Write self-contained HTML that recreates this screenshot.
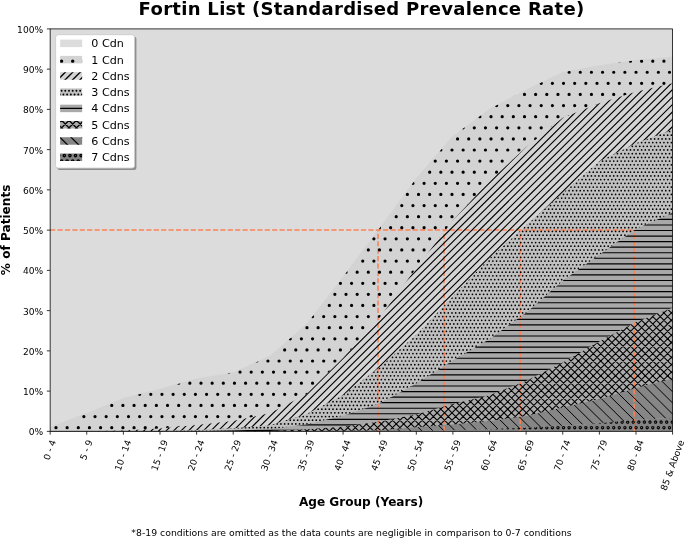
<!DOCTYPE html><html><head><meta charset="utf-8"><title>Fortin List</title>
<style>html,body{margin:0;padding:0;background:#fff}svg{display:block}text{font-family:"DejaVu Sans","Liberation Sans",sans-serif;fill:#000}</style></head><body>
<svg width="685" height="539" viewBox="0 0 685 539">
<rect width="685" height="539" fill="#fff"/>
<defs>
<clipPath id="ax"><rect x="50.15" y="28.90" width="622.45" height="402.45"/></clipPath>
<clipPath id="c7"><polygon points="50.15,431.35 86.76,431.35 123.38,431.35 159.99,431.35 196.61,431.35 233.22,431.35 269.84,431.35 306.45,431.35 343.07,431.35 379.68,431.15 416.30,430.95 452.91,430.14 489.53,429.14 526.14,427.73 562.76,425.72 599.37,423.30 635.99,419.68 672.60,418.07 672.60,431.35 635.99,431.35 599.37,431.35 562.76,431.35 526.14,431.35 489.53,431.35 452.91,431.35 416.30,431.35 379.68,431.35 343.07,431.35 306.45,431.35 269.84,431.35 233.22,431.35 196.61,431.35 159.99,431.35 123.38,431.35 86.76,431.35 50.15,431.35"/></clipPath>
<clipPath id="c6"><polygon points="50.15,431.35 86.76,431.35 123.38,431.35 159.99,431.35 196.61,431.35 233.22,431.35 269.84,431.35 306.45,430.95 343.07,430.75 379.68,430.14 416.30,427.33 452.91,424.51 489.53,420.89 526.14,416.06 562.76,407.61 599.37,399.36 635.99,388.09 672.60,378.63 672.60,418.07 635.99,419.68 599.37,423.30 562.76,425.72 526.14,427.73 489.53,429.14 452.91,430.14 416.30,430.95 379.68,431.15 343.07,431.35 306.45,431.35 269.84,431.35 233.22,431.35 196.61,431.35 159.99,431.35 123.38,431.35 86.76,431.35 50.15,431.35"/></clipPath>
<clipPath id="c5"><polygon points="50.15,431.35 86.76,431.35 123.38,431.35 159.99,431.35 196.61,431.35 233.22,431.15 269.84,430.95 306.45,429.34 343.07,426.72 379.68,421.49 416.30,414.45 452.91,403.98 489.53,395.13 526.14,381.04 562.76,362.53 599.37,341.60 635.99,321.88 672.60,307.80 672.60,378.63 635.99,388.09 599.37,399.36 562.76,407.61 526.14,416.06 489.53,420.89 452.91,424.51 416.30,427.33 379.68,430.14 343.07,430.75 306.45,430.95 269.84,431.35 233.22,431.35 196.61,431.35 159.99,431.35 123.38,431.35 86.76,431.35 50.15,431.35"/></clipPath>
<clipPath id="c4"><polygon points="50.15,431.35 86.76,431.35 123.38,431.35 159.99,431.35 196.61,431.15 233.22,430.55 269.84,429.14 306.45,424.51 343.07,415.65 379.68,403.58 416.30,383.46 452.91,360.52 489.53,339.19 526.14,312.63 562.76,280.83 599.37,254.67 635.99,228.92 672.60,212.82 672.60,307.80 635.99,321.88 599.37,341.60 562.76,362.53 526.14,381.04 489.53,395.13 452.91,403.98 416.30,414.45 379.68,421.49 343.07,426.72 306.45,429.34 269.84,430.95 233.22,431.15 196.61,431.35 159.99,431.35 123.38,431.35 86.76,431.35 50.15,431.35"/></clipPath>
<clipPath id="c3"><polygon points="50.15,431.35 86.76,431.35 123.38,431.35 159.99,430.95 196.61,429.94 233.22,428.13 269.84,425.31 306.45,414.04 343.07,395.13 379.68,366.96 416.30,334.76 452.91,296.13 489.53,258.30 526.14,225.30 562.76,193.10 599.37,161.31 635.99,143.20 672.60,129.51 672.60,212.82 635.99,228.92 599.37,254.67 562.76,280.83 526.14,312.63 489.53,339.19 452.91,360.52 416.30,383.46 379.68,403.58 343.07,415.65 306.45,424.51 269.84,429.14 233.22,430.55 196.61,431.15 159.99,431.35 123.38,431.35 86.76,431.35 50.15,431.35"/></clipPath>
<clipPath id="c2"><polygon points="50.15,431.35 86.76,431.15 123.38,430.55 159.99,428.53 196.61,424.91 233.22,420.89 269.84,413.24 306.45,394.32 343.07,358.10 379.68,317.46 416.30,267.96 452.91,220.47 489.53,181.03 526.14,147.22 562.76,117.84 599.37,103.35 635.99,91.68 672.60,83.23 672.60,129.51 635.99,143.20 599.37,161.31 562.76,193.10 526.14,225.30 489.53,258.30 452.91,296.13 416.30,334.76 379.68,366.96 343.07,395.13 306.45,414.04 269.84,425.31 233.22,428.13 196.61,429.94 159.99,430.95 123.38,431.35 86.76,431.35 50.15,431.35"/></clipPath>
<clipPath id="c1"><polygon points="50.15,427.33 86.76,413.24 123.38,398.35 159.99,389.09 196.61,378.63 233.22,372.59 269.84,356.09 306.45,324.30 343.07,276.81 379.68,228.11 416.30,178.21 452.91,135.95 489.53,108.99 526.14,89.67 562.76,72.36 599.37,65.52 635.99,60.29 672.60,57.07 672.60,83.23 635.99,91.68 599.37,103.35 562.76,117.84 526.14,147.22 489.53,181.03 452.91,220.47 416.30,267.96 379.68,317.46 343.07,358.10 306.45,394.32 269.84,413.24 233.22,420.89 196.61,424.91 159.99,428.53 123.38,430.55 86.76,431.15 50.15,431.35"/></clipPath>
<clipPath id="c0"><polygon points="50.15,28.90 86.76,28.90 123.38,28.90 159.99,28.90 196.61,28.90 233.22,28.90 269.84,28.90 306.45,28.90 343.07,28.90 379.68,28.90 416.30,28.90 452.91,28.90 489.53,28.90 526.14,28.90 562.76,28.90 599.37,28.90 635.99,28.90 672.60,28.90 672.60,57.07 635.99,60.29 599.37,65.52 562.76,72.36 526.14,89.67 489.53,108.99 452.91,135.95 416.30,178.21 379.68,228.11 343.07,276.81 306.45,324.30 269.84,356.09 233.22,372.59 196.61,378.63 159.99,389.09 123.38,398.35 86.76,413.24 50.15,427.33"/></clipPath>
</defs>
<g clip-path="url(#ax)" shape-rendering="geometricPrecision">
<rect x="50.15" y="28.90" width="622.45" height="402.45" fill="#dcdcdc"/>
<polygon points="50.15,427.33 86.76,413.24 123.38,398.35 159.99,389.09 196.61,378.63 233.22,372.59 269.84,356.09 306.45,324.30 343.07,276.81 379.68,228.11 416.30,178.21 452.91,135.95 489.53,108.99 526.14,89.67 562.76,72.36 599.37,65.52 635.99,60.29 672.60,57.07 672.60,83.23 635.99,91.68 599.37,103.35 562.76,117.84 526.14,147.22 489.53,181.03 452.91,220.47 416.30,267.96 379.68,317.46 343.07,358.10 306.45,394.32 269.84,413.24 233.22,420.89 196.61,424.91 159.99,428.53 123.38,430.55 86.76,431.15 50.15,431.35" fill="#d3d3d3" stroke="#d3d3d3" stroke-width="0.3"/>
<polygon points="50.15,431.35 86.76,431.15 123.38,430.55 159.99,428.53 196.61,424.91 233.22,420.89 269.84,413.24 306.45,394.32 343.07,358.10 379.68,317.46 416.30,267.96 452.91,220.47 489.53,181.03 526.14,147.22 562.76,117.84 599.37,103.35 635.99,91.68 672.60,83.23 672.60,129.51 635.99,143.20 599.37,161.31 562.76,193.10 526.14,225.30 489.53,258.30 452.91,296.13 416.30,334.76 379.68,366.96 343.07,395.13 306.45,414.04 269.84,425.31 233.22,428.13 196.61,429.94 159.99,430.95 123.38,431.35 86.76,431.35 50.15,431.35" fill="#d4d4d4" stroke="#d4d4d4" stroke-width="0.3"/>
<polygon points="50.15,431.35 86.76,431.35 123.38,431.35 159.99,430.95 196.61,429.94 233.22,428.13 269.84,425.31 306.45,414.04 343.07,395.13 379.68,366.96 416.30,334.76 452.91,296.13 489.53,258.30 526.14,225.30 562.76,193.10 599.37,161.31 635.99,143.20 672.60,129.51 672.60,212.82 635.99,228.92 599.37,254.67 562.76,280.83 526.14,312.63 489.53,339.19 452.91,360.52 416.30,383.46 379.68,403.58 343.07,415.65 306.45,424.51 269.84,429.14 233.22,430.55 196.61,431.15 159.99,431.35 123.38,431.35 86.76,431.35 50.15,431.35" fill="#c0c0c0" stroke="#c0c0c0" stroke-width="0.3"/>
<polygon points="50.15,431.35 86.76,431.35 123.38,431.35 159.99,431.35 196.61,431.15 233.22,430.55 269.84,429.14 306.45,424.51 343.07,415.65 379.68,403.58 416.30,383.46 452.91,360.52 489.53,339.19 526.14,312.63 562.76,280.83 599.37,254.67 635.99,228.92 672.60,212.82 672.60,307.80 635.99,321.88 599.37,341.60 562.76,362.53 526.14,381.04 489.53,395.13 452.91,403.98 416.30,414.45 379.68,421.49 343.07,426.72 306.45,429.34 269.84,430.95 233.22,431.15 196.61,431.35 159.99,431.35 123.38,431.35 86.76,431.35 50.15,431.35" fill="#a9a9a9" stroke="#a9a9a9" stroke-width="0.3"/>
<polygon points="50.15,431.35 86.76,431.35 123.38,431.35 159.99,431.35 196.61,431.35 233.22,431.15 269.84,430.95 306.45,429.34 343.07,426.72 379.68,421.49 416.30,414.45 452.91,403.98 489.53,395.13 526.14,381.04 562.76,362.53 599.37,341.60 635.99,321.88 672.60,307.80 672.60,378.63 635.99,388.09 599.37,399.36 562.76,407.61 526.14,416.06 489.53,420.89 452.91,424.51 416.30,427.33 379.68,430.14 343.07,430.75 306.45,430.95 269.84,431.35 233.22,431.35 196.61,431.35 159.99,431.35 123.38,431.35 86.76,431.35 50.15,431.35" fill="#ababab" stroke="#ababab" stroke-width="0.3"/>
<polygon points="50.15,431.35 86.76,431.35 123.38,431.35 159.99,431.35 196.61,431.35 233.22,431.35 269.84,431.35 306.45,430.95 343.07,430.75 379.68,430.14 416.30,427.33 452.91,424.51 489.53,420.89 526.14,416.06 562.76,407.61 599.37,399.36 635.99,388.09 672.60,378.63 672.60,418.07 635.99,419.68 599.37,423.30 562.76,425.72 526.14,427.73 489.53,429.14 452.91,430.14 416.30,430.95 379.68,431.15 343.07,431.35 306.45,431.35 269.84,431.35 233.22,431.35 196.61,431.35 159.99,431.35 123.38,431.35 86.76,431.35 50.15,431.35" fill="#868686" stroke="#868686" stroke-width="0.3"/>
<polygon points="50.15,431.35 86.76,431.35 123.38,431.35 159.99,431.35 196.61,431.35 233.22,431.35 269.84,431.35 306.45,431.35 343.07,431.35 379.68,431.15 416.30,430.95 452.91,430.14 489.53,429.14 526.14,427.73 562.76,425.72 599.37,423.30 635.99,419.68 672.60,418.07 672.60,431.35 635.99,431.35 599.37,431.35 562.76,431.35 526.14,431.35 489.53,431.35 452.91,431.35 416.30,431.35 379.68,431.35 343.07,431.35 306.45,431.35 269.84,431.35 233.22,431.35 196.61,431.35 159.99,431.35 123.38,431.35 86.76,431.35 50.15,431.35" fill="#838383" stroke="#838383" stroke-width="0.3"/>
</g>
<g fill="none" stroke="#fb8155" stroke-width="1.50" stroke-dasharray="5.15 2.25">
<path d="M50.15 230.00H634.20"/>
<path d="M378.05 431.35V230.00"/>
<path d="M444.10 431.35V230.00"/>
<path d="M520.20 431.35V230.00"/>
<path d="M634.20 431.35V230.00"/>
</g>
<g clip-path="url(#c1)"><path d="M55.98 427.64h0M67.13 427.64h0M78.29 427.64h0M89.44 427.64h0M100.60 427.64h0M111.75 427.64h0M122.91 427.64h0M134.06 427.64h0M145.22 427.64h0M156.38 427.64h0M167.53 427.64h0M178.69 427.64h0M83.87 416.53h0M95.02 416.53h0M106.18 416.53h0M117.33 416.53h0M128.49 416.53h0M139.64 416.53h0M150.80 416.53h0M161.95 416.53h0M173.11 416.53h0M184.26 416.53h0M195.42 416.53h0M206.57 416.53h0M217.73 416.53h0M228.88 416.53h0M240.04 416.53h0M251.19 416.53h0M262.35 416.53h0M111.75 405.43h0M122.91 405.43h0M134.06 405.43h0M145.22 405.43h0M156.38 405.43h0M167.53 405.43h0M178.69 405.43h0M189.84 405.43h0M200.99 405.43h0M212.15 405.43h0M223.30 405.43h0M234.46 405.43h0M245.61 405.43h0M256.77 405.43h0M267.93 405.43h0M279.08 405.43h0M139.64 394.32h0M150.80 394.32h0M161.95 394.32h0M173.11 394.32h0M184.26 394.32h0M195.42 394.32h0M206.57 394.32h0M217.73 394.32h0M228.88 394.32h0M240.04 394.32h0M251.19 394.32h0M262.35 394.32h0M273.50 394.32h0M284.66 394.32h0M295.81 394.32h0M306.97 394.32h0M178.69 383.22h0M189.84 383.22h0M200.99 383.22h0M212.15 383.22h0M223.30 383.22h0M234.46 383.22h0M245.61 383.22h0M256.77 383.22h0M267.93 383.22h0M279.08 383.22h0M290.24 383.22h0M301.39 383.22h0M312.55 383.22h0M228.88 372.11h0M240.04 372.11h0M251.19 372.11h0M262.35 372.11h0M273.50 372.11h0M284.66 372.11h0M295.81 372.11h0M306.97 372.11h0M318.12 372.11h0M329.28 372.11h0M256.77 361.00h0M267.93 361.00h0M279.08 361.00h0M290.24 361.00h0M301.39 361.00h0M312.55 361.00h0M323.70 361.00h0M334.86 361.00h0M284.66 349.90h0M295.81 349.90h0M306.97 349.90h0M318.12 349.90h0M329.28 349.90h0M340.43 349.90h0M351.59 349.90h0M290.24 338.79h0M301.39 338.79h0M312.55 338.79h0M323.70 338.79h0M334.86 338.79h0M346.01 338.79h0M357.17 338.79h0M306.97 327.69h0M318.12 327.69h0M329.28 327.69h0M340.43 327.69h0M351.59 327.69h0M362.74 327.69h0M312.55 316.58h0M323.70 316.58h0M334.86 316.58h0M346.01 316.58h0M357.17 316.58h0M368.32 316.58h0M379.48 316.58h0M329.28 305.47h0M340.43 305.47h0M351.59 305.47h0M362.74 305.47h0M373.90 305.47h0M385.05 305.47h0M334.86 294.37h0M346.01 294.37h0M357.17 294.37h0M368.32 294.37h0M379.48 294.37h0M390.63 294.37h0M340.43 283.26h0M351.59 283.26h0M362.74 283.26h0M373.90 283.26h0M385.05 283.26h0M396.21 283.26h0M346.01 272.16h0M357.17 272.16h0M368.32 272.16h0M379.48 272.16h0M390.63 272.16h0M401.79 272.16h0M412.94 272.16h0M362.74 261.05h0M373.90 261.05h0M385.05 261.05h0M396.21 261.05h0M407.36 261.05h0M418.52 261.05h0M368.32 249.94h0M379.48 249.94h0M390.63 249.94h0M401.79 249.94h0M412.94 249.94h0M424.09 249.94h0M373.90 238.84h0M385.05 238.84h0M396.21 238.84h0M407.36 238.84h0M418.52 238.84h0M429.67 238.84h0M440.83 238.84h0M379.48 227.73h0M390.63 227.73h0M401.79 227.73h0M412.94 227.73h0M424.09 227.73h0M435.25 227.73h0M446.40 227.73h0M396.21 216.63h0M407.36 216.63h0M418.52 216.63h0M429.67 216.63h0M440.83 216.63h0M451.98 216.63h0M401.79 205.52h0M412.94 205.52h0M424.09 205.52h0M435.25 205.52h0M446.40 205.52h0M457.56 205.52h0M468.71 205.52h0M407.36 194.41h0M418.52 194.41h0M429.67 194.41h0M440.83 194.41h0M451.98 194.41h0M463.14 194.41h0M474.29 194.41h0M412.94 183.31h0M424.09 183.31h0M435.25 183.31h0M446.40 183.31h0M457.56 183.31h0M468.71 183.31h0M479.87 183.31h0M429.67 172.20h0M440.83 172.20h0M451.98 172.20h0M463.14 172.20h0M474.29 172.20h0M485.45 172.20h0M496.60 172.20h0M435.25 161.10h0M446.40 161.10h0M457.56 161.10h0M468.71 161.10h0M479.87 161.10h0M491.02 161.10h0M502.18 161.10h0M513.33 161.10h0M440.83 149.99h0M451.98 149.99h0M463.14 149.99h0M474.29 149.99h0M485.45 149.99h0M496.60 149.99h0M507.76 149.99h0M518.91 149.99h0M457.56 138.88h0M468.71 138.88h0M479.87 138.88h0M491.02 138.88h0M502.18 138.88h0M513.33 138.88h0M524.49 138.88h0M535.64 138.88h0M463.14 127.78h0M474.29 127.78h0M485.45 127.78h0M496.60 127.78h0M507.76 127.78h0M518.91 127.78h0M530.07 127.78h0M541.22 127.78h0M552.38 127.78h0M479.87 116.67h0M491.02 116.67h0M502.18 116.67h0M513.33 116.67h0M524.49 116.67h0M535.64 116.67h0M546.80 116.67h0M557.95 116.67h0M569.11 116.67h0M496.60 105.57h0M507.76 105.57h0M518.91 105.57h0M530.07 105.57h0M541.22 105.57h0M552.38 105.57h0M563.53 105.57h0M574.69 105.57h0M585.84 105.57h0M597.00 105.57h0M513.33 94.46h0M524.49 94.46h0M535.64 94.46h0M546.80 94.46h0M557.95 94.46h0M569.11 94.46h0M580.26 94.46h0M591.42 94.46h0M602.57 94.46h0M613.73 94.46h0M624.88 94.46h0M541.22 83.35h0M552.38 83.35h0M563.53 83.35h0M574.69 83.35h0M585.84 83.35h0M597.00 83.35h0M608.15 83.35h0M619.31 83.35h0M630.46 83.35h0M641.62 83.35h0M652.77 83.35h0M663.93 83.35h0M569.11 72.25h0M580.26 72.25h0M591.42 72.25h0M602.57 72.25h0M613.73 72.25h0M624.88 72.25h0M636.04 72.25h0M647.19 72.25h0M658.35 72.25h0M669.50 72.25h0M619.31 61.14h0M630.46 61.14h0M641.62 61.14h0M652.77 61.14h0M663.93 61.14h0" stroke="#000" stroke-width="3.23" stroke-linecap="round" fill="none"/></g>
<g clip-path="url(#c2)"><path d="M-315.86 436.90L44.95 77.68M-308.42 436.90L52.39 77.68M-300.99 436.90L59.82 77.68M-293.55 436.90L67.26 77.68M-286.11 436.90L74.70 77.68M-278.68 436.90L82.13 77.68M-271.24 436.90L89.57 77.68M-263.80 436.90L97.01 77.68M-256.37 436.90L104.44 77.68M-248.93 436.90L111.88 77.68M-241.49 436.90L119.32 77.68M-234.06 436.90L126.75 77.68M-226.62 436.90L134.19 77.68M-219.18 436.90L141.63 77.68M-211.75 436.90L149.06 77.68M-204.31 436.90L156.50 77.68M-196.87 436.90L163.94 77.68M-189.44 436.90L171.37 77.68M-182.00 436.90L178.81 77.68M-174.56 436.90L186.25 77.68M-167.13 436.90L193.68 77.68M-159.69 436.90L201.12 77.68M-152.25 436.90L208.56 77.68M-144.82 436.90L215.99 77.68M-137.38 436.90L223.43 77.68M-129.94 436.90L230.87 77.68M-122.51 436.90L238.30 77.68M-115.07 436.90L245.74 77.68M-107.63 436.90L253.18 77.68M-100.20 436.90L260.61 77.68M-92.76 436.90L268.05 77.68M-85.32 436.90L275.49 77.68M-77.89 436.90L282.92 77.68M-70.45 436.90L290.36 77.68M-63.01 436.90L297.80 77.68M-55.58 436.90L305.23 77.68M-48.14 436.90L312.67 77.68M-40.70 436.90L320.11 77.68M-33.27 436.90L327.54 77.68M-25.83 436.90L334.98 77.68M-18.39 436.90L342.42 77.68M-10.96 436.90L349.85 77.68M-3.52 436.90L357.29 77.68M3.92 436.90L364.73 77.68M11.35 436.90L372.16 77.68M18.79 436.90L379.60 77.68M26.23 436.90L387.04 77.68M33.66 436.90L394.47 77.68M41.10 436.90L401.91 77.68M48.54 436.90L409.35 77.68M55.97 436.90L416.78 77.68M63.41 436.90L424.22 77.68M70.85 436.90L431.66 77.68M78.28 436.90L439.09 77.68M85.72 436.90L446.53 77.68M93.16 436.90L453.97 77.68M100.59 436.90L461.40 77.68M108.03 436.90L468.84 77.68M115.47 436.90L476.28 77.68M122.90 436.90L483.71 77.68M130.34 436.90L491.15 77.68M137.78 436.90L498.59 77.68M145.21 436.90L506.02 77.68M152.65 436.90L513.46 77.68M160.09 436.90L520.90 77.68M167.52 436.90L528.33 77.68M174.96 436.90L535.77 77.68M182.40 436.90L543.21 77.68M189.83 436.90L550.64 77.68M197.27 436.90L558.08 77.68M204.71 436.90L565.52 77.68M212.14 436.90L572.95 77.68M219.58 436.90L580.39 77.68M227.02 436.90L587.83 77.68M234.45 436.90L595.26 77.68M241.89 436.90L602.70 77.68M249.33 436.90L610.14 77.68M256.76 436.90L617.57 77.68M264.20 436.90L625.01 77.68M271.64 436.90L632.45 77.68M279.07 436.90L639.88 77.68M286.51 436.90L647.32 77.68M293.95 436.90L654.76 77.68M301.38 436.90L662.19 77.68M308.82 436.90L669.63 77.68M316.26 436.90L677.07 77.68M323.69 436.90L684.50 77.68M331.13 436.90L691.94 77.68M338.57 436.90L699.38 77.68M346.00 436.90L706.81 77.68M353.44 436.90L714.25 77.68M360.88 436.90L721.69 77.68M368.31 436.90L729.12 77.68M375.75 436.90L736.56 77.68M383.19 436.90L744.00 77.68M390.62 436.90L751.43 77.68M398.06 436.90L758.87 77.68M405.50 436.90L766.31 77.68M412.93 436.90L773.74 77.68M420.37 436.90L781.18 77.68M427.81 436.90L788.62 77.68M435.24 436.90L796.05 77.68M442.68 436.90L803.49 77.68M450.12 436.90L810.93 77.68M457.55 436.90L818.36 77.68M464.99 436.90L825.80 77.68M472.43 436.90L833.24 77.68M479.86 436.90L840.67 77.68M487.30 436.90L848.11 77.68M494.74 436.90L855.55 77.68M502.17 436.90L862.98 77.68M509.61 436.90L870.42 77.68M517.05 436.90L877.86 77.68M524.48 436.90L885.29 77.68M531.92 436.90L892.73 77.68M539.36 436.90L900.17 77.68M546.79 436.90L907.60 77.68M554.23 436.90L915.04 77.68M561.67 436.90L922.48 77.68M569.10 436.90L929.91 77.68M576.54 436.90L937.35 77.68M583.98 436.90L944.79 77.68M591.41 436.90L952.22 77.68M598.85 436.90L959.66 77.68M606.29 436.90L967.10 77.68M613.72 436.90L974.53 77.68M621.16 436.90L981.97 77.68M628.60 436.90L989.41 77.68M636.03 436.90L996.84 77.68M643.47 436.90L1004.28 77.68M650.91 436.90L1011.72 77.68M658.34 436.90L1019.15 77.68M665.78 436.90L1026.59 77.68M673.22 436.90L1034.03 77.68M680.65 436.90L1041.46 77.68" stroke="#000" stroke-width="1.12" fill="none"/></g>
<g clip-path="url(#c3)"><path d="M124.77 431.34h0M128.49 431.34h0M132.21 431.34h0M135.92 431.34h0M139.64 431.34h0M143.36 431.34h0M147.08 431.34h0M150.80 431.34h0M154.52 431.34h0M158.23 431.34h0M161.95 431.34h0M176.83 431.34h0M180.54 431.34h0M184.26 431.34h0M187.98 431.34h0M191.70 431.34h0M195.42 431.34h0M199.14 431.34h0M202.85 431.34h0M206.57 431.34h0M210.29 431.34h0M214.01 431.34h0M217.73 431.34h0M221.45 431.34h0M225.16 431.34h0M228.88 431.34h0M232.60 431.34h0M236.32 431.34h0M240.04 431.34h0M219.59 427.64h0M223.30 427.64h0M227.02 427.64h0M230.74 427.64h0M234.46 427.64h0M238.18 427.64h0M241.90 427.64h0M245.61 427.64h0M249.33 427.64h0M253.05 427.64h0M256.77 427.64h0M260.49 427.64h0M264.21 427.64h0M267.92 427.64h0M271.64 427.64h0M275.36 427.64h0M279.08 427.64h0M282.80 427.64h0M286.52 427.64h0M290.24 427.64h0M273.50 423.94h0M277.22 423.94h0M280.94 423.94h0M284.66 423.94h0M288.38 423.94h0M292.09 423.94h0M295.81 423.94h0M299.53 423.94h0M303.25 423.94h0M306.97 423.94h0M310.69 423.94h0M282.80 420.24h0M286.52 420.24h0M290.24 420.24h0M293.95 420.24h0M297.67 420.24h0M301.39 420.24h0M305.11 420.24h0M308.83 420.24h0M312.55 420.24h0M316.26 420.24h0M319.98 420.24h0M323.70 420.24h0M327.42 420.24h0M295.81 416.53h0M299.53 416.53h0M303.25 416.53h0M306.97 416.53h0M310.69 416.53h0M314.40 416.53h0M318.12 416.53h0M321.84 416.53h0M325.56 416.53h0M329.28 416.53h0M333.00 416.53h0M336.71 416.53h0M340.43 416.53h0M308.83 412.83h0M312.55 412.83h0M316.26 412.83h0M319.98 412.83h0M323.70 412.83h0M327.42 412.83h0M331.14 412.83h0M334.86 412.83h0M338.57 412.83h0M342.29 412.83h0M346.01 412.83h0M349.73 412.83h0M353.45 412.83h0M314.40 409.13h0M318.12 409.13h0M321.84 409.13h0M325.56 409.13h0M329.28 409.13h0M333.00 409.13h0M336.71 409.13h0M340.43 409.13h0M344.15 409.13h0M347.87 409.13h0M351.59 409.13h0M355.31 409.13h0M359.02 409.13h0M362.74 409.13h0M323.70 405.43h0M327.42 405.43h0M331.14 405.43h0M334.86 405.43h0M338.57 405.43h0M342.29 405.43h0M346.01 405.43h0M349.73 405.43h0M353.45 405.43h0M357.17 405.43h0M360.88 405.43h0M364.60 405.43h0M368.32 405.43h0M372.04 405.43h0M375.76 405.43h0M329.28 401.73h0M333.00 401.73h0M336.71 401.73h0M340.43 401.73h0M344.15 401.73h0M347.87 401.73h0M351.59 401.73h0M355.31 401.73h0M359.02 401.73h0M362.74 401.73h0M366.46 401.73h0M370.18 401.73h0M373.90 401.73h0M377.62 401.73h0M381.33 401.73h0M385.05 401.73h0M338.57 398.02h0M342.29 398.02h0M346.01 398.02h0M349.73 398.02h0M353.45 398.02h0M357.17 398.02h0M360.88 398.02h0M364.60 398.02h0M368.32 398.02h0M372.04 398.02h0M375.76 398.02h0M379.47 398.02h0M383.19 398.02h0M386.91 398.02h0M390.63 398.02h0M344.15 394.32h0M347.87 394.32h0M351.59 394.32h0M355.31 394.32h0M359.02 394.32h0M362.74 394.32h0M366.46 394.32h0M370.18 394.32h0M373.90 394.32h0M377.62 394.32h0M381.33 394.32h0M385.05 394.32h0M388.77 394.32h0M392.49 394.32h0M396.21 394.32h0M349.73 390.62h0M353.45 390.62h0M357.17 390.62h0M360.88 390.62h0M364.60 390.62h0M368.32 390.62h0M372.04 390.62h0M375.76 390.62h0M379.47 390.62h0M383.19 390.62h0M386.91 390.62h0M390.63 390.62h0M394.35 390.62h0M398.07 390.62h0M401.79 390.62h0M405.50 390.62h0M355.31 386.92h0M359.02 386.92h0M362.74 386.92h0M366.46 386.92h0M370.18 386.92h0M373.90 386.92h0M377.62 386.92h0M381.33 386.92h0M385.05 386.92h0M388.77 386.92h0M392.49 386.92h0M396.21 386.92h0M399.93 386.92h0M403.64 386.92h0M407.36 386.92h0M411.08 386.92h0M357.17 383.22h0M360.88 383.22h0M364.60 383.22h0M368.32 383.22h0M372.04 383.22h0M375.76 383.22h0M379.47 383.22h0M383.19 383.22h0M386.91 383.22h0M390.63 383.22h0M394.35 383.22h0M398.07 383.22h0M401.79 383.22h0M405.50 383.22h0M409.22 383.22h0M412.94 383.22h0M416.66 383.22h0M362.74 379.51h0M366.46 379.51h0M370.18 379.51h0M373.90 379.51h0M377.62 379.51h0M381.33 379.51h0M385.05 379.51h0M388.77 379.51h0M392.49 379.51h0M396.21 379.51h0M399.93 379.51h0M403.64 379.51h0M407.36 379.51h0M411.08 379.51h0M414.80 379.51h0M418.52 379.51h0M422.24 379.51h0M368.32 375.81h0M372.04 375.81h0M375.76 375.81h0M379.47 375.81h0M383.19 375.81h0M386.91 375.81h0M390.63 375.81h0M394.35 375.81h0M398.07 375.81h0M401.79 375.81h0M405.50 375.81h0M409.22 375.81h0M412.94 375.81h0M416.66 375.81h0M420.38 375.81h0M424.10 375.81h0M427.81 375.81h0M373.90 372.11h0M377.62 372.11h0M381.33 372.11h0M385.05 372.11h0M388.77 372.11h0M392.49 372.11h0M396.21 372.11h0M399.93 372.11h0M403.64 372.11h0M407.36 372.11h0M411.08 372.11h0M414.80 372.11h0M418.52 372.11h0M422.24 372.11h0M425.95 372.11h0M429.67 372.11h0M433.39 372.11h0M379.47 368.41h0M383.19 368.41h0M386.91 368.41h0M390.63 368.41h0M394.35 368.41h0M398.07 368.41h0M401.79 368.41h0M405.50 368.41h0M409.22 368.41h0M412.94 368.41h0M416.66 368.41h0M420.38 368.41h0M424.10 368.41h0M427.81 368.41h0M431.53 368.41h0M435.25 368.41h0M438.97 368.41h0M381.33 364.71h0M385.05 364.71h0M388.77 364.71h0M392.49 364.71h0M396.21 364.71h0M399.93 364.71h0M403.64 364.71h0M407.36 364.71h0M411.08 364.71h0M414.80 364.71h0M418.52 364.71h0M422.24 364.71h0M425.95 364.71h0M429.67 364.71h0M433.39 364.71h0M437.11 364.71h0M440.83 364.71h0M444.55 364.71h0M448.26 364.71h0M386.91 361.00h0M390.63 361.00h0M394.35 361.00h0M398.07 361.00h0M401.79 361.00h0M405.50 361.00h0M409.22 361.00h0M412.94 361.00h0M416.66 361.00h0M420.38 361.00h0M424.10 361.00h0M427.81 361.00h0M431.53 361.00h0M435.25 361.00h0M438.97 361.00h0M442.69 361.00h0M446.40 361.00h0M450.12 361.00h0M453.84 361.00h0M392.49 357.30h0M396.21 357.30h0M399.93 357.30h0M403.64 357.30h0M407.36 357.30h0M411.08 357.30h0M414.80 357.30h0M418.52 357.30h0M422.24 357.30h0M425.95 357.30h0M429.67 357.30h0M433.39 357.30h0M437.11 357.30h0M440.83 357.30h0M444.55 357.30h0M448.26 357.30h0M451.98 357.30h0M455.70 357.30h0M459.42 357.30h0M394.35 353.60h0M398.07 353.60h0M401.79 353.60h0M405.50 353.60h0M409.22 353.60h0M412.94 353.60h0M416.66 353.60h0M420.38 353.60h0M424.10 353.60h0M427.81 353.60h0M431.53 353.60h0M435.25 353.60h0M438.97 353.60h0M442.69 353.60h0M446.40 353.60h0M450.12 353.60h0M453.84 353.60h0M457.56 353.60h0M461.28 353.60h0M465.00 353.60h0M399.93 349.90h0M403.64 349.90h0M407.36 349.90h0M411.08 349.90h0M414.80 349.90h0M418.52 349.90h0M422.24 349.90h0M425.95 349.90h0M429.67 349.90h0M433.39 349.90h0M437.11 349.90h0M440.83 349.90h0M444.55 349.90h0M448.26 349.90h0M451.98 349.90h0M455.70 349.90h0M459.42 349.90h0M463.14 349.90h0M466.86 349.90h0M470.57 349.90h0M401.79 346.20h0M405.50 346.20h0M409.22 346.20h0M412.94 346.20h0M416.66 346.20h0M420.38 346.20h0M424.10 346.20h0M427.81 346.20h0M431.53 346.20h0M435.25 346.20h0M438.97 346.20h0M442.69 346.20h0M446.40 346.20h0M450.12 346.20h0M453.84 346.20h0M457.56 346.20h0M461.28 346.20h0M465.00 346.20h0M468.71 346.20h0M472.43 346.20h0M476.15 346.20h0M407.36 342.49h0M411.08 342.49h0M414.80 342.49h0M418.52 342.49h0M422.24 342.49h0M425.95 342.49h0M429.67 342.49h0M433.39 342.49h0M437.11 342.49h0M440.83 342.49h0M444.55 342.49h0M448.26 342.49h0M451.98 342.49h0M455.70 342.49h0M459.42 342.49h0M463.14 342.49h0M466.86 342.49h0M470.57 342.49h0M474.29 342.49h0M478.01 342.49h0M481.73 342.49h0M485.45 342.49h0M412.94 338.79h0M416.66 338.79h0M420.38 338.79h0M424.10 338.79h0M427.81 338.79h0M431.53 338.79h0M435.25 338.79h0M438.97 338.79h0M442.69 338.79h0M446.40 338.79h0M450.12 338.79h0M453.84 338.79h0M457.56 338.79h0M461.28 338.79h0M465.00 338.79h0M468.71 338.79h0M472.43 338.79h0M476.15 338.79h0M479.87 338.79h0M483.59 338.79h0M487.31 338.79h0M491.03 338.79h0M414.80 335.09h0M418.52 335.09h0M422.24 335.09h0M425.95 335.09h0M429.67 335.09h0M433.39 335.09h0M437.11 335.09h0M440.83 335.09h0M444.55 335.09h0M448.26 335.09h0M451.98 335.09h0M455.70 335.09h0M459.42 335.09h0M463.14 335.09h0M466.86 335.09h0M470.57 335.09h0M474.29 335.09h0M478.01 335.09h0M481.73 335.09h0M485.45 335.09h0M489.17 335.09h0M492.88 335.09h0M496.60 335.09h0M420.38 331.39h0M424.10 331.39h0M427.81 331.39h0M431.53 331.39h0M435.25 331.39h0M438.97 331.39h0M442.69 331.39h0M446.40 331.39h0M450.12 331.39h0M453.84 331.39h0M457.56 331.39h0M461.28 331.39h0M465.00 331.39h0M468.71 331.39h0M472.43 331.39h0M476.15 331.39h0M479.87 331.39h0M483.59 331.39h0M487.31 331.39h0M491.03 331.39h0M494.74 331.39h0M498.46 331.39h0M502.18 331.39h0M422.24 327.69h0M425.95 327.69h0M429.67 327.69h0M433.39 327.69h0M437.11 327.69h0M440.83 327.69h0M444.55 327.69h0M448.26 327.69h0M451.98 327.69h0M455.70 327.69h0M459.42 327.69h0M463.14 327.69h0M466.86 327.69h0M470.57 327.69h0M474.29 327.69h0M478.01 327.69h0M481.73 327.69h0M485.45 327.69h0M489.17 327.69h0M492.88 327.69h0M496.60 327.69h0M500.32 327.69h0M504.04 327.69h0M427.81 323.98h0M431.53 323.98h0M435.25 323.98h0M438.97 323.98h0M442.69 323.98h0M446.40 323.98h0M450.12 323.98h0M453.84 323.98h0M457.56 323.98h0M461.28 323.98h0M465.00 323.98h0M468.71 323.98h0M472.43 323.98h0M476.15 323.98h0M479.87 323.98h0M483.59 323.98h0M487.31 323.98h0M491.03 323.98h0M494.74 323.98h0M498.46 323.98h0M502.18 323.98h0M505.90 323.98h0M509.62 323.98h0M429.67 320.28h0M433.39 320.28h0M437.11 320.28h0M440.83 320.28h0M444.55 320.28h0M448.26 320.28h0M451.98 320.28h0M455.70 320.28h0M459.42 320.28h0M463.14 320.28h0M466.86 320.28h0M470.57 320.28h0M474.29 320.28h0M478.01 320.28h0M481.73 320.28h0M485.45 320.28h0M489.17 320.28h0M492.88 320.28h0M496.60 320.28h0M500.32 320.28h0M504.04 320.28h0M507.76 320.28h0M511.48 320.28h0M515.19 320.28h0M435.25 316.58h0M438.97 316.58h0M442.69 316.58h0M446.40 316.58h0M450.12 316.58h0M453.84 316.58h0M457.56 316.58h0M461.28 316.58h0M465.00 316.58h0M468.71 316.58h0M472.43 316.58h0M476.15 316.58h0M479.87 316.58h0M483.59 316.58h0M487.31 316.58h0M491.03 316.58h0M494.74 316.58h0M498.46 316.58h0M502.18 316.58h0M505.90 316.58h0M509.62 316.58h0M513.33 316.58h0M517.05 316.58h0M520.77 316.58h0M437.11 312.88h0M440.83 312.88h0M444.55 312.88h0M448.26 312.88h0M451.98 312.88h0M455.70 312.88h0M459.42 312.88h0M463.14 312.88h0M466.86 312.88h0M470.57 312.88h0M474.29 312.88h0M478.01 312.88h0M481.73 312.88h0M485.45 312.88h0M489.17 312.88h0M492.88 312.88h0M496.60 312.88h0M500.32 312.88h0M504.04 312.88h0M507.76 312.88h0M511.48 312.88h0M515.19 312.88h0M518.91 312.88h0M522.63 312.88h0M526.35 312.88h0M438.97 309.18h0M442.69 309.18h0M446.40 309.18h0M450.12 309.18h0M453.84 309.18h0M457.56 309.18h0M461.28 309.18h0M465.00 309.18h0M468.71 309.18h0M472.43 309.18h0M476.15 309.18h0M479.87 309.18h0M483.59 309.18h0M487.31 309.18h0M491.03 309.18h0M494.74 309.18h0M498.46 309.18h0M502.18 309.18h0M505.90 309.18h0M509.62 309.18h0M513.33 309.18h0M517.05 309.18h0M520.77 309.18h0M524.49 309.18h0M528.21 309.18h0M444.55 305.47h0M448.26 305.47h0M451.98 305.47h0M455.70 305.47h0M459.42 305.47h0M463.14 305.47h0M466.86 305.47h0M470.57 305.47h0M474.29 305.47h0M478.01 305.47h0M481.73 305.47h0M485.45 305.47h0M489.17 305.47h0M492.88 305.47h0M496.60 305.47h0M500.32 305.47h0M504.04 305.47h0M507.76 305.47h0M511.48 305.47h0M515.19 305.47h0M518.91 305.47h0M522.63 305.47h0M526.35 305.47h0M530.07 305.47h0M533.79 305.47h0M446.40 301.77h0M450.12 301.77h0M453.84 301.77h0M457.56 301.77h0M461.28 301.77h0M465.00 301.77h0M468.71 301.77h0M472.43 301.77h0M476.15 301.77h0M479.87 301.77h0M483.59 301.77h0M487.31 301.77h0M491.03 301.77h0M494.74 301.77h0M498.46 301.77h0M502.18 301.77h0M505.90 301.77h0M509.62 301.77h0M513.33 301.77h0M517.05 301.77h0M520.77 301.77h0M524.49 301.77h0M528.21 301.77h0M531.93 301.77h0M535.64 301.77h0M539.36 301.77h0M451.98 298.07h0M455.70 298.07h0M459.42 298.07h0M463.14 298.07h0M466.86 298.07h0M470.57 298.07h0M474.29 298.07h0M478.01 298.07h0M481.73 298.07h0M485.45 298.07h0M489.17 298.07h0M492.88 298.07h0M496.60 298.07h0M500.32 298.07h0M504.04 298.07h0M507.76 298.07h0M511.48 298.07h0M515.19 298.07h0M518.91 298.07h0M522.63 298.07h0M526.35 298.07h0M530.07 298.07h0M533.79 298.07h0M537.50 298.07h0M541.22 298.07h0M453.84 294.37h0M457.56 294.37h0M461.28 294.37h0M465.00 294.37h0M468.71 294.37h0M472.43 294.37h0M476.15 294.37h0M479.87 294.37h0M483.59 294.37h0M487.31 294.37h0M491.03 294.37h0M494.74 294.37h0M498.46 294.37h0M502.18 294.37h0M505.90 294.37h0M509.62 294.37h0M513.33 294.37h0M517.05 294.37h0M520.77 294.37h0M524.49 294.37h0M528.21 294.37h0M531.93 294.37h0M535.64 294.37h0M539.36 294.37h0M543.08 294.37h0M546.80 294.37h0M459.42 290.67h0M463.14 290.67h0M466.86 290.67h0M470.57 290.67h0M474.29 290.67h0M478.01 290.67h0M481.73 290.67h0M485.45 290.67h0M489.17 290.67h0M492.88 290.67h0M496.60 290.67h0M500.32 290.67h0M504.04 290.67h0M507.76 290.67h0M511.48 290.67h0M515.19 290.67h0M518.91 290.67h0M522.63 290.67h0M526.35 290.67h0M530.07 290.67h0M533.79 290.67h0M537.50 290.67h0M541.22 290.67h0M544.94 290.67h0M548.66 290.67h0M552.38 290.67h0M461.28 286.96h0M465.00 286.96h0M468.71 286.96h0M472.43 286.96h0M476.15 286.96h0M479.87 286.96h0M483.59 286.96h0M487.31 286.96h0M491.03 286.96h0M494.74 286.96h0M498.46 286.96h0M502.18 286.96h0M505.90 286.96h0M509.62 286.96h0M513.33 286.96h0M517.05 286.96h0M520.77 286.96h0M524.49 286.96h0M528.21 286.96h0M531.93 286.96h0M535.64 286.96h0M539.36 286.96h0M543.08 286.96h0M546.80 286.96h0M550.52 286.96h0M554.24 286.96h0M466.86 283.26h0M470.57 283.26h0M474.29 283.26h0M478.01 283.26h0M481.73 283.26h0M485.45 283.26h0M489.17 283.26h0M492.88 283.26h0M496.60 283.26h0M500.32 283.26h0M504.04 283.26h0M507.76 283.26h0M511.48 283.26h0M515.19 283.26h0M518.91 283.26h0M522.63 283.26h0M526.35 283.26h0M530.07 283.26h0M533.79 283.26h0M537.50 283.26h0M541.22 283.26h0M544.94 283.26h0M548.66 283.26h0M552.38 283.26h0M556.10 283.26h0M559.81 283.26h0M468.71 279.56h0M472.43 279.56h0M476.15 279.56h0M479.87 279.56h0M483.59 279.56h0M487.31 279.56h0M491.03 279.56h0M494.74 279.56h0M498.46 279.56h0M502.18 279.56h0M505.90 279.56h0M509.62 279.56h0M513.33 279.56h0M517.05 279.56h0M520.77 279.56h0M524.49 279.56h0M528.21 279.56h0M531.93 279.56h0M535.64 279.56h0M539.36 279.56h0M543.08 279.56h0M546.80 279.56h0M550.52 279.56h0M554.24 279.56h0M557.95 279.56h0M561.67 279.56h0M565.39 279.56h0M474.29 275.86h0M478.01 275.86h0M481.73 275.86h0M485.45 275.86h0M489.17 275.86h0M492.88 275.86h0M496.60 275.86h0M500.32 275.86h0M504.04 275.86h0M507.76 275.86h0M511.48 275.86h0M515.19 275.86h0M518.91 275.86h0M522.63 275.86h0M526.35 275.86h0M530.07 275.86h0M533.79 275.86h0M537.50 275.86h0M541.22 275.86h0M544.94 275.86h0M548.66 275.86h0M552.38 275.86h0M556.10 275.86h0M559.81 275.86h0M563.53 275.86h0M567.25 275.86h0M570.97 275.86h0M476.15 272.16h0M479.87 272.16h0M483.59 272.16h0M487.31 272.16h0M491.03 272.16h0M494.74 272.16h0M498.46 272.16h0M502.18 272.16h0M505.90 272.16h0M509.62 272.16h0M513.33 272.16h0M517.05 272.16h0M520.77 272.16h0M524.49 272.16h0M528.21 272.16h0M531.93 272.16h0M535.64 272.16h0M539.36 272.16h0M543.08 272.16h0M546.80 272.16h0M550.52 272.16h0M554.24 272.16h0M557.95 272.16h0M561.67 272.16h0M565.39 272.16h0M569.11 272.16h0M572.83 272.16h0M576.55 272.16h0M481.73 268.45h0M485.45 268.45h0M489.17 268.45h0M492.88 268.45h0M496.60 268.45h0M500.32 268.45h0M504.04 268.45h0M507.76 268.45h0M511.48 268.45h0M515.19 268.45h0M518.91 268.45h0M522.63 268.45h0M526.35 268.45h0M530.07 268.45h0M533.79 268.45h0M537.50 268.45h0M541.22 268.45h0M544.94 268.45h0M548.66 268.45h0M552.38 268.45h0M556.10 268.45h0M559.81 268.45h0M563.53 268.45h0M567.25 268.45h0M570.97 268.45h0M574.69 268.45h0M578.41 268.45h0M483.59 264.75h0M487.31 264.75h0M491.03 264.75h0M494.74 264.75h0M498.46 264.75h0M502.18 264.75h0M505.90 264.75h0M509.62 264.75h0M513.33 264.75h0M517.05 264.75h0M520.77 264.75h0M524.49 264.75h0M528.21 264.75h0M531.93 264.75h0M535.64 264.75h0M539.36 264.75h0M543.08 264.75h0M546.80 264.75h0M550.52 264.75h0M554.24 264.75h0M557.95 264.75h0M561.67 264.75h0M565.39 264.75h0M569.11 264.75h0M572.83 264.75h0M576.55 264.75h0M580.26 264.75h0M583.98 264.75h0M485.45 261.05h0M489.17 261.05h0M492.88 261.05h0M496.60 261.05h0M500.32 261.05h0M504.04 261.05h0M507.76 261.05h0M511.48 261.05h0M515.19 261.05h0M518.91 261.05h0M522.63 261.05h0M526.35 261.05h0M530.07 261.05h0M533.79 261.05h0M537.50 261.05h0M541.22 261.05h0M544.94 261.05h0M548.66 261.05h0M552.38 261.05h0M556.10 261.05h0M559.81 261.05h0M563.53 261.05h0M567.25 261.05h0M570.97 261.05h0M574.69 261.05h0M578.41 261.05h0M582.12 261.05h0M585.84 261.05h0M589.56 261.05h0M491.03 257.35h0M494.74 257.35h0M498.46 257.35h0M502.18 257.35h0M505.90 257.35h0M509.62 257.35h0M513.33 257.35h0M517.05 257.35h0M520.77 257.35h0M524.49 257.35h0M528.21 257.35h0M531.93 257.35h0M535.64 257.35h0M539.36 257.35h0M543.08 257.35h0M546.80 257.35h0M550.52 257.35h0M554.24 257.35h0M557.95 257.35h0M561.67 257.35h0M565.39 257.35h0M569.11 257.35h0M572.83 257.35h0M576.55 257.35h0M580.26 257.35h0M583.98 257.35h0M587.70 257.35h0M591.42 257.35h0M595.14 257.35h0M496.60 253.65h0M500.32 253.65h0M504.04 253.65h0M507.76 253.65h0M511.48 253.65h0M515.19 253.65h0M518.91 253.65h0M522.63 253.65h0M526.35 253.65h0M530.07 253.65h0M533.79 253.65h0M537.50 253.65h0M541.22 253.65h0M544.94 253.65h0M548.66 253.65h0M552.38 253.65h0M556.10 253.65h0M559.81 253.65h0M563.53 253.65h0M567.25 253.65h0M570.97 253.65h0M574.69 253.65h0M578.41 253.65h0M582.12 253.65h0M585.84 253.65h0M589.56 253.65h0M593.28 253.65h0M597.00 253.65h0M600.72 253.65h0M498.46 249.94h0M502.18 249.94h0M505.90 249.94h0M509.62 249.94h0M513.33 249.94h0M517.05 249.94h0M520.77 249.94h0M524.49 249.94h0M528.21 249.94h0M531.93 249.94h0M535.64 249.94h0M539.36 249.94h0M543.08 249.94h0M546.80 249.94h0M550.52 249.94h0M554.24 249.94h0M557.95 249.94h0M561.67 249.94h0M565.39 249.94h0M569.11 249.94h0M572.83 249.94h0M576.55 249.94h0M580.26 249.94h0M583.98 249.94h0M587.70 249.94h0M591.42 249.94h0M595.14 249.94h0M598.86 249.94h0M602.57 249.94h0M606.29 249.94h0M504.04 246.24h0M507.76 246.24h0M511.48 246.24h0M515.19 246.24h0M518.91 246.24h0M522.63 246.24h0M526.35 246.24h0M530.07 246.24h0M533.79 246.24h0M537.50 246.24h0M541.22 246.24h0M544.94 246.24h0M548.66 246.24h0M552.38 246.24h0M556.10 246.24h0M559.81 246.24h0M563.53 246.24h0M567.25 246.24h0M570.97 246.24h0M574.69 246.24h0M578.41 246.24h0M582.12 246.24h0M585.84 246.24h0M589.56 246.24h0M593.28 246.24h0M597.00 246.24h0M600.72 246.24h0M604.43 246.24h0M608.15 246.24h0M611.87 246.24h0M505.90 242.54h0M509.62 242.54h0M513.33 242.54h0M517.05 242.54h0M520.77 242.54h0M524.49 242.54h0M528.21 242.54h0M531.93 242.54h0M535.64 242.54h0M539.36 242.54h0M543.08 242.54h0M546.80 242.54h0M550.52 242.54h0M554.24 242.54h0M557.95 242.54h0M561.67 242.54h0M565.39 242.54h0M569.11 242.54h0M572.83 242.54h0M576.55 242.54h0M580.26 242.54h0M583.98 242.54h0M587.70 242.54h0M591.42 242.54h0M595.14 242.54h0M598.86 242.54h0M602.57 242.54h0M606.29 242.54h0M610.01 242.54h0M613.73 242.54h0M617.45 242.54h0M511.48 238.84h0M515.19 238.84h0M518.91 238.84h0M522.63 238.84h0M526.35 238.84h0M530.07 238.84h0M533.79 238.84h0M537.50 238.84h0M541.22 238.84h0M544.94 238.84h0M548.66 238.84h0M552.38 238.84h0M556.10 238.84h0M559.81 238.84h0M563.53 238.84h0M567.25 238.84h0M570.97 238.84h0M574.69 238.84h0M578.41 238.84h0M582.12 238.84h0M585.84 238.84h0M589.56 238.84h0M593.28 238.84h0M597.00 238.84h0M600.72 238.84h0M604.43 238.84h0M608.15 238.84h0M611.87 238.84h0M615.59 238.84h0M619.31 238.84h0M623.03 238.84h0M517.05 235.14h0M520.77 235.14h0M524.49 235.14h0M528.21 235.14h0M531.93 235.14h0M535.64 235.14h0M539.36 235.14h0M543.08 235.14h0M546.80 235.14h0M550.52 235.14h0M554.24 235.14h0M557.95 235.14h0M561.67 235.14h0M565.39 235.14h0M569.11 235.14h0M572.83 235.14h0M576.55 235.14h0M580.26 235.14h0M583.98 235.14h0M587.70 235.14h0M591.42 235.14h0M595.14 235.14h0M598.86 235.14h0M602.57 235.14h0M606.29 235.14h0M610.01 235.14h0M613.73 235.14h0M617.45 235.14h0M621.17 235.14h0M624.88 235.14h0M628.60 235.14h0M518.91 231.43h0M522.63 231.43h0M526.35 231.43h0M530.07 231.43h0M533.79 231.43h0M537.50 231.43h0M541.22 231.43h0M544.94 231.43h0M548.66 231.43h0M552.38 231.43h0M556.10 231.43h0M559.81 231.43h0M563.53 231.43h0M567.25 231.43h0M570.97 231.43h0M574.69 231.43h0M578.41 231.43h0M582.12 231.43h0M585.84 231.43h0M589.56 231.43h0M593.28 231.43h0M597.00 231.43h0M600.72 231.43h0M604.43 231.43h0M608.15 231.43h0M611.87 231.43h0M615.59 231.43h0M619.31 231.43h0M623.03 231.43h0M626.74 231.43h0M630.46 231.43h0M634.18 231.43h0M524.49 227.73h0M528.21 227.73h0M531.93 227.73h0M535.64 227.73h0M539.36 227.73h0M543.08 227.73h0M546.80 227.73h0M550.52 227.73h0M554.24 227.73h0M557.95 227.73h0M561.67 227.73h0M565.39 227.73h0M569.11 227.73h0M572.83 227.73h0M576.55 227.73h0M580.26 227.73h0M583.98 227.73h0M587.70 227.73h0M591.42 227.73h0M595.14 227.73h0M598.86 227.73h0M602.57 227.73h0M606.29 227.73h0M610.01 227.73h0M613.73 227.73h0M617.45 227.73h0M621.17 227.73h0M624.88 227.73h0M628.60 227.73h0M632.32 227.73h0M636.04 227.73h0M639.76 227.73h0M526.35 224.03h0M530.07 224.03h0M533.79 224.03h0M537.50 224.03h0M541.22 224.03h0M544.94 224.03h0M548.66 224.03h0M552.38 224.03h0M556.10 224.03h0M559.81 224.03h0M563.53 224.03h0M567.25 224.03h0M570.97 224.03h0M574.69 224.03h0M578.41 224.03h0M582.12 224.03h0M585.84 224.03h0M589.56 224.03h0M593.28 224.03h0M597.00 224.03h0M600.72 224.03h0M604.43 224.03h0M608.15 224.03h0M611.87 224.03h0M615.59 224.03h0M619.31 224.03h0M623.03 224.03h0M626.74 224.03h0M630.46 224.03h0M634.18 224.03h0M637.90 224.03h0M641.62 224.03h0M645.34 224.03h0M649.05 224.03h0M531.93 220.33h0M535.64 220.33h0M539.36 220.33h0M543.08 220.33h0M546.80 220.33h0M550.52 220.33h0M554.24 220.33h0M557.95 220.33h0M561.67 220.33h0M565.39 220.33h0M569.11 220.33h0M572.83 220.33h0M576.55 220.33h0M580.26 220.33h0M583.98 220.33h0M587.70 220.33h0M591.42 220.33h0M595.14 220.33h0M598.86 220.33h0M602.57 220.33h0M606.29 220.33h0M610.01 220.33h0M613.73 220.33h0M617.45 220.33h0M621.17 220.33h0M624.88 220.33h0M628.60 220.33h0M632.32 220.33h0M636.04 220.33h0M639.76 220.33h0M643.48 220.33h0M647.20 220.33h0M650.91 220.33h0M654.63 220.33h0M537.50 216.63h0M541.22 216.63h0M544.94 216.63h0M548.66 216.63h0M552.38 216.63h0M556.10 216.63h0M559.81 216.63h0M563.53 216.63h0M567.25 216.63h0M570.97 216.63h0M574.69 216.63h0M578.41 216.63h0M582.12 216.63h0M585.84 216.63h0M589.56 216.63h0M593.28 216.63h0M597.00 216.63h0M600.72 216.63h0M604.43 216.63h0M608.15 216.63h0M611.87 216.63h0M615.59 216.63h0M619.31 216.63h0M623.03 216.63h0M626.74 216.63h0M630.46 216.63h0M634.18 216.63h0M637.90 216.63h0M641.62 216.63h0M645.34 216.63h0M649.05 216.63h0M652.77 216.63h0M656.49 216.63h0M660.21 216.63h0M663.93 216.63h0M539.36 212.92h0M543.08 212.92h0M546.80 212.92h0M550.52 212.92h0M554.24 212.92h0M557.95 212.92h0M561.67 212.92h0M565.39 212.92h0M569.11 212.92h0M572.83 212.92h0M576.55 212.92h0M580.26 212.92h0M583.98 212.92h0M587.70 212.92h0M591.42 212.92h0M595.14 212.92h0M598.86 212.92h0M602.57 212.92h0M606.29 212.92h0M610.01 212.92h0M613.73 212.92h0M617.45 212.92h0M621.17 212.92h0M624.88 212.92h0M628.60 212.92h0M632.32 212.92h0M636.04 212.92h0M639.76 212.92h0M643.48 212.92h0M647.20 212.92h0M650.91 212.92h0M654.63 212.92h0M658.35 212.92h0M662.07 212.92h0M665.79 212.92h0M669.50 212.92h0M673.22 212.92h0M544.94 209.22h0M548.66 209.22h0M552.38 209.22h0M556.10 209.22h0M559.81 209.22h0M563.53 209.22h0M567.25 209.22h0M570.97 209.22h0M574.69 209.22h0M578.41 209.22h0M582.12 209.22h0M585.84 209.22h0M589.56 209.22h0M593.28 209.22h0M597.00 209.22h0M600.72 209.22h0M604.43 209.22h0M608.15 209.22h0M611.87 209.22h0M615.59 209.22h0M619.31 209.22h0M623.03 209.22h0M626.74 209.22h0M630.46 209.22h0M634.18 209.22h0M637.90 209.22h0M641.62 209.22h0M645.34 209.22h0M649.05 209.22h0M652.77 209.22h0M656.49 209.22h0M660.21 209.22h0M663.93 209.22h0M667.65 209.22h0M671.36 209.22h0M550.52 205.52h0M554.24 205.52h0M557.95 205.52h0M561.67 205.52h0M565.39 205.52h0M569.11 205.52h0M572.83 205.52h0M576.55 205.52h0M580.26 205.52h0M583.98 205.52h0M587.70 205.52h0M591.42 205.52h0M595.14 205.52h0M598.86 205.52h0M602.57 205.52h0M606.29 205.52h0M610.01 205.52h0M613.73 205.52h0M617.45 205.52h0M621.17 205.52h0M624.88 205.52h0M628.60 205.52h0M632.32 205.52h0M636.04 205.52h0M639.76 205.52h0M643.48 205.52h0M647.20 205.52h0M650.91 205.52h0M654.63 205.52h0M658.35 205.52h0M662.07 205.52h0M665.79 205.52h0M669.50 205.52h0M673.22 205.52h0M552.38 201.82h0M556.10 201.82h0M559.81 201.82h0M563.53 201.82h0M567.25 201.82h0M570.97 201.82h0M574.69 201.82h0M578.41 201.82h0M582.12 201.82h0M585.84 201.82h0M589.56 201.82h0M593.28 201.82h0M597.00 201.82h0M600.72 201.82h0M604.43 201.82h0M608.15 201.82h0M611.87 201.82h0M615.59 201.82h0M619.31 201.82h0M623.03 201.82h0M626.74 201.82h0M630.46 201.82h0M634.18 201.82h0M637.90 201.82h0M641.62 201.82h0M645.34 201.82h0M649.05 201.82h0M652.77 201.82h0M656.49 201.82h0M660.21 201.82h0M663.93 201.82h0M667.65 201.82h0M671.36 201.82h0M557.95 198.12h0M561.67 198.12h0M565.39 198.12h0M569.11 198.12h0M572.83 198.12h0M576.55 198.12h0M580.26 198.12h0M583.98 198.12h0M587.70 198.12h0M591.42 198.12h0M595.14 198.12h0M598.86 198.12h0M602.57 198.12h0M606.29 198.12h0M610.01 198.12h0M613.73 198.12h0M617.45 198.12h0M621.17 198.12h0M624.88 198.12h0M628.60 198.12h0M632.32 198.12h0M636.04 198.12h0M639.76 198.12h0M643.48 198.12h0M647.20 198.12h0M650.91 198.12h0M654.63 198.12h0M658.35 198.12h0M662.07 198.12h0M665.79 198.12h0M669.50 198.12h0M673.22 198.12h0M559.81 194.41h0M563.53 194.41h0M567.25 194.41h0M570.97 194.41h0M574.69 194.41h0M578.41 194.41h0M582.12 194.41h0M585.84 194.41h0M589.56 194.41h0M593.28 194.41h0M597.00 194.41h0M600.72 194.41h0M604.43 194.41h0M608.15 194.41h0M611.87 194.41h0M615.59 194.41h0M619.31 194.41h0M623.03 194.41h0M626.74 194.41h0M630.46 194.41h0M634.18 194.41h0M637.90 194.41h0M641.62 194.41h0M645.34 194.41h0M649.05 194.41h0M652.77 194.41h0M656.49 194.41h0M660.21 194.41h0M663.93 194.41h0M667.65 194.41h0M671.36 194.41h0M565.39 190.71h0M569.11 190.71h0M572.83 190.71h0M576.55 190.71h0M580.26 190.71h0M583.98 190.71h0M587.70 190.71h0M591.42 190.71h0M595.14 190.71h0M598.86 190.71h0M602.57 190.71h0M606.29 190.71h0M610.01 190.71h0M613.73 190.71h0M617.45 190.71h0M621.17 190.71h0M624.88 190.71h0M628.60 190.71h0M632.32 190.71h0M636.04 190.71h0M639.76 190.71h0M643.48 190.71h0M647.20 190.71h0M650.91 190.71h0M654.63 190.71h0M658.35 190.71h0M662.07 190.71h0M665.79 190.71h0M669.50 190.71h0M673.22 190.71h0M570.97 187.01h0M574.69 187.01h0M578.41 187.01h0M582.12 187.01h0M585.84 187.01h0M589.56 187.01h0M593.28 187.01h0M597.00 187.01h0M600.72 187.01h0M604.43 187.01h0M608.15 187.01h0M611.87 187.01h0M615.59 187.01h0M619.31 187.01h0M623.03 187.01h0M626.74 187.01h0M630.46 187.01h0M634.18 187.01h0M637.90 187.01h0M641.62 187.01h0M645.34 187.01h0M649.05 187.01h0M652.77 187.01h0M656.49 187.01h0M660.21 187.01h0M663.93 187.01h0M667.65 187.01h0M671.36 187.01h0M572.83 183.31h0M576.55 183.31h0M580.26 183.31h0M583.98 183.31h0M587.70 183.31h0M591.42 183.31h0M595.14 183.31h0M598.86 183.31h0M602.57 183.31h0M606.29 183.31h0M610.01 183.31h0M613.73 183.31h0M617.45 183.31h0M621.17 183.31h0M624.88 183.31h0M628.60 183.31h0M632.32 183.31h0M636.04 183.31h0M639.76 183.31h0M643.48 183.31h0M647.20 183.31h0M650.91 183.31h0M654.63 183.31h0M658.35 183.31h0M662.07 183.31h0M665.79 183.31h0M669.50 183.31h0M673.22 183.31h0M578.41 179.61h0M582.12 179.61h0M585.84 179.61h0M589.56 179.61h0M593.28 179.61h0M597.00 179.61h0M600.72 179.61h0M604.43 179.61h0M608.15 179.61h0M611.87 179.61h0M615.59 179.61h0M619.31 179.61h0M623.03 179.61h0M626.74 179.61h0M630.46 179.61h0M634.18 179.61h0M637.90 179.61h0M641.62 179.61h0M645.34 179.61h0M649.05 179.61h0M652.77 179.61h0M656.49 179.61h0M660.21 179.61h0M663.93 179.61h0M667.65 179.61h0M671.36 179.61h0M583.98 175.90h0M587.70 175.90h0M591.42 175.90h0M595.14 175.90h0M598.86 175.90h0M602.57 175.90h0M606.29 175.90h0M610.01 175.90h0M613.73 175.90h0M617.45 175.90h0M621.17 175.90h0M624.88 175.90h0M628.60 175.90h0M632.32 175.90h0M636.04 175.90h0M639.76 175.90h0M643.48 175.90h0M647.20 175.90h0M650.91 175.90h0M654.63 175.90h0M658.35 175.90h0M662.07 175.90h0M665.79 175.90h0M669.50 175.90h0M673.22 175.90h0M585.84 172.20h0M589.56 172.20h0M593.28 172.20h0M597.00 172.20h0M600.72 172.20h0M604.43 172.20h0M608.15 172.20h0M611.87 172.20h0M615.59 172.20h0M619.31 172.20h0M623.03 172.20h0M626.74 172.20h0M630.46 172.20h0M634.18 172.20h0M637.90 172.20h0M641.62 172.20h0M645.34 172.20h0M649.05 172.20h0M652.77 172.20h0M656.49 172.20h0M660.21 172.20h0M663.93 172.20h0M667.65 172.20h0M671.36 172.20h0M591.42 168.50h0M595.14 168.50h0M598.86 168.50h0M602.57 168.50h0M606.29 168.50h0M610.01 168.50h0M613.73 168.50h0M617.45 168.50h0M621.17 168.50h0M624.88 168.50h0M628.60 168.50h0M632.32 168.50h0M636.04 168.50h0M639.76 168.50h0M643.48 168.50h0M647.20 168.50h0M650.91 168.50h0M654.63 168.50h0M658.35 168.50h0M662.07 168.50h0M665.79 168.50h0M669.50 168.50h0M673.22 168.50h0M597.00 164.80h0M600.72 164.80h0M604.43 164.80h0M608.15 164.80h0M611.87 164.80h0M615.59 164.80h0M619.31 164.80h0M623.03 164.80h0M626.74 164.80h0M630.46 164.80h0M634.18 164.80h0M637.90 164.80h0M641.62 164.80h0M645.34 164.80h0M649.05 164.80h0M652.77 164.80h0M656.49 164.80h0M660.21 164.80h0M663.93 164.80h0M667.65 164.80h0M671.36 164.80h0M598.86 161.10h0M602.57 161.10h0M606.29 161.10h0M610.01 161.10h0M613.73 161.10h0M617.45 161.10h0M621.17 161.10h0M624.88 161.10h0M628.60 161.10h0M632.32 161.10h0M636.04 161.10h0M639.76 161.10h0M643.48 161.10h0M647.20 161.10h0M650.91 161.10h0M654.63 161.10h0M658.35 161.10h0M662.07 161.10h0M665.79 161.10h0M669.50 161.10h0M673.22 161.10h0M608.15 157.39h0M611.87 157.39h0M615.59 157.39h0M619.31 157.39h0M623.03 157.39h0M626.74 157.39h0M630.46 157.39h0M634.18 157.39h0M637.90 157.39h0M641.62 157.39h0M645.34 157.39h0M649.05 157.39h0M652.77 157.39h0M656.49 157.39h0M660.21 157.39h0M663.93 157.39h0M667.65 157.39h0M671.36 157.39h0M613.73 153.69h0M617.45 153.69h0M621.17 153.69h0M624.88 153.69h0M628.60 153.69h0M632.32 153.69h0M636.04 153.69h0M639.76 153.69h0M643.48 153.69h0M647.20 153.69h0M650.91 153.69h0M654.63 153.69h0M658.35 153.69h0M662.07 153.69h0M665.79 153.69h0M669.50 153.69h0M673.22 153.69h0M623.03 149.99h0M626.74 149.99h0M630.46 149.99h0M634.18 149.99h0M637.90 149.99h0M641.62 149.99h0M645.34 149.99h0M649.05 149.99h0M652.77 149.99h0M656.49 149.99h0M660.21 149.99h0M663.93 149.99h0M667.65 149.99h0M671.36 149.99h0M628.60 146.29h0M632.32 146.29h0M636.04 146.29h0M639.76 146.29h0M643.48 146.29h0M647.20 146.29h0M650.91 146.29h0M654.63 146.29h0M658.35 146.29h0M662.07 146.29h0M665.79 146.29h0M669.50 146.29h0M673.22 146.29h0M637.90 142.59h0M641.62 142.59h0M645.34 142.59h0M649.05 142.59h0M652.77 142.59h0M656.49 142.59h0M660.21 142.59h0M663.93 142.59h0M667.65 142.59h0M671.36 142.59h0M647.20 138.88h0M650.91 138.88h0M654.63 138.88h0M658.35 138.88h0M662.07 138.88h0M665.79 138.88h0M669.50 138.88h0M673.22 138.88h0M656.49 135.18h0M660.21 135.18h0M663.93 135.18h0M667.65 135.18h0M671.36 135.18h0M665.79 131.48h0M669.50 131.48h0M673.22 131.48h0" stroke="#000" stroke-width="1.74" stroke-linecap="round" fill="none"/></g>
<g clip-path="url(#c4)"><path d="M49.15 441.52L673.60 441.52M49.15 435.97L673.60 435.97M49.15 430.42L673.60 430.42M49.15 424.86L673.60 424.86M49.15 419.31L673.60 419.31M49.15 413.76L673.60 413.76M49.15 408.20L673.60 408.20M49.15 402.65L673.60 402.65M49.15 397.10L673.60 397.10M49.15 391.55L673.60 391.55M49.15 385.99L673.60 385.99M49.15 380.44L673.60 380.44M49.15 374.89L673.60 374.89M49.15 369.33L673.60 369.33M49.15 363.78L673.60 363.78M49.15 358.23L673.60 358.23M49.15 352.67L673.60 352.67M49.15 347.12L673.60 347.12M49.15 341.57L673.60 341.57M49.15 336.02L673.60 336.02M49.15 330.46L673.60 330.46M49.15 324.91L673.60 324.91M49.15 319.36L673.60 319.36M49.15 313.80L673.60 313.80M49.15 308.25L673.60 308.25M49.15 302.70L673.60 302.70M49.15 297.14L673.60 297.14M49.15 291.59L673.60 291.59M49.15 286.04L673.60 286.04M49.15 280.49L673.60 280.49M49.15 274.93L673.60 274.93M49.15 269.38L673.60 269.38M49.15 263.83L673.60 263.83M49.15 258.27L673.60 258.27M49.15 252.72L673.60 252.72M49.15 247.17L673.60 247.17M49.15 241.61L673.60 241.61M49.15 236.06L673.60 236.06M49.15 230.51L673.60 230.51M49.15 224.96L673.60 224.96M49.15 219.40L673.60 219.40M49.15 213.85L673.60 213.85M49.15 208.30L673.60 208.30M49.15 202.74L673.60 202.74" stroke="#000" stroke-width="1.15" fill="none"/></g>
<g clip-path="url(#c5)"><path d="M-92.76 436.90L42.49 302.24M-85.32 436.90L49.93 302.24M-77.89 436.90L57.36 302.24M-70.45 436.90L64.80 302.24M-63.01 436.90L72.24 302.24M-55.58 436.90L79.67 302.24M-48.14 436.90L87.11 302.24M-40.70 436.90L94.55 302.24M-33.27 436.90L101.98 302.24M-25.83 436.90L109.42 302.24M-18.39 436.90L116.86 302.24M-10.96 436.90L124.29 302.24M-3.52 436.90L131.73 302.24M3.92 436.90L139.17 302.24M11.35 436.90L146.60 302.24M18.79 436.90L154.04 302.24M26.23 436.90L161.48 302.24M33.66 436.90L168.91 302.24M41.10 436.90L176.35 302.24M48.54 436.90L183.79 302.24M55.97 436.90L191.22 302.24M63.41 436.90L198.66 302.24M70.85 436.90L206.10 302.24M78.28 436.90L213.53 302.24M85.72 436.90L220.97 302.24M93.16 436.90L228.41 302.24M100.59 436.90L235.84 302.24M108.03 436.90L243.28 302.24M115.47 436.90L250.72 302.24M122.90 436.90L258.15 302.24M130.34 436.90L265.59 302.24M137.78 436.90L273.03 302.24M145.21 436.90L280.46 302.24M152.65 436.90L287.90 302.24M160.09 436.90L295.34 302.24M167.52 436.90L302.77 302.24M174.96 436.90L310.21 302.24M182.40 436.90L317.65 302.24M189.83 436.90L325.08 302.24M197.27 436.90L332.52 302.24M204.71 436.90L339.96 302.24M212.14 436.90L347.39 302.24M219.58 436.90L354.83 302.24M227.02 436.90L362.27 302.24M234.45 436.90L369.70 302.24M241.89 436.90L377.14 302.24M249.33 436.90L384.58 302.24M256.76 436.90L392.01 302.24M264.20 436.90L399.45 302.24M271.64 436.90L406.89 302.24M279.07 436.90L414.32 302.24M286.51 436.90L421.76 302.24M293.95 436.90L429.20 302.24M301.38 436.90L436.63 302.24M308.82 436.90L444.07 302.24M316.26 436.90L451.51 302.24M323.69 436.90L458.94 302.24M331.13 436.90L466.38 302.24M338.57 436.90L473.82 302.24M346.00 436.90L481.25 302.24M353.44 436.90L488.69 302.24M360.88 436.90L496.13 302.24M368.31 436.90L503.56 302.24M375.75 436.90L511.00 302.24M383.19 436.90L518.44 302.24M390.62 436.90L525.87 302.24M398.06 436.90L533.31 302.24M405.50 436.90L540.75 302.24M412.93 436.90L548.18 302.24M420.37 436.90L555.62 302.24M427.81 436.90L563.06 302.24M435.24 436.90L570.49 302.24M442.68 436.90L577.93 302.24M450.12 436.90L585.37 302.24M457.55 436.90L592.80 302.24M464.99 436.90L600.24 302.24M472.43 436.90L607.68 302.24M479.86 436.90L615.11 302.24M487.30 436.90L622.55 302.24M494.74 436.90L629.99 302.24M502.17 436.90L637.42 302.24M509.61 436.90L644.86 302.24M517.05 436.90L652.30 302.24M524.48 436.90L659.73 302.24M531.92 436.90L667.17 302.24M539.36 436.90L674.61 302.24M546.79 436.90L682.04 302.24M554.23 436.90L689.48 302.24M561.67 436.90L696.92 302.24M569.10 436.90L704.35 302.24M576.54 436.90L711.79 302.24M583.98 436.90L719.23 302.24M591.41 436.90L726.66 302.24M598.85 436.90L734.10 302.24M606.29 436.90L741.54 302.24M613.72 436.90L748.97 302.24M621.16 436.90L756.41 302.24M628.60 436.90L763.85 302.24M636.03 436.90L771.28 302.24M643.47 436.90L778.72 302.24M650.91 436.90L786.16 302.24M658.34 436.90L793.59 302.24M665.78 436.90L801.03 302.24M673.22 436.90L808.47 302.24M680.65 436.90L815.90 302.24M44.83 436.90L-90.42 302.24M52.27 436.90L-82.98 302.24M59.71 436.90L-75.55 302.24M67.14 436.90L-68.11 302.24M74.58 436.90L-60.67 302.24M82.02 436.90L-53.24 302.24M89.45 436.90L-45.80 302.24M96.89 436.90L-38.36 302.24M104.33 436.90L-30.93 302.24M111.76 436.90L-23.49 302.24M119.20 436.90L-16.05 302.24M126.64 436.90L-8.62 302.24M134.07 436.90L-1.18 302.24M141.51 436.90L6.26 302.24M148.95 436.90L13.69 302.24M156.38 436.90L21.13 302.24M163.82 436.90L28.57 302.24M171.26 436.90L36.00 302.24M178.69 436.90L43.44 302.24M186.13 436.90L50.88 302.24M193.57 436.90L58.31 302.24M201.00 436.90L65.75 302.24M208.44 436.90L73.19 302.24M215.88 436.90L80.62 302.24M223.31 436.90L88.06 302.24M230.75 436.90L95.50 302.24M238.19 436.90L102.93 302.24M245.62 436.90L110.37 302.24M253.06 436.90L117.81 302.24M260.50 436.90L125.24 302.24M267.93 436.90L132.68 302.24M275.37 436.90L140.12 302.24M282.81 436.90L147.55 302.24M290.24 436.90L154.99 302.24M297.68 436.90L162.43 302.24M305.12 436.90L169.86 302.24M312.55 436.90L177.30 302.24M319.99 436.90L184.74 302.24M327.43 436.90L192.17 302.24M334.86 436.90L199.61 302.24M342.30 436.90L207.05 302.24M349.74 436.90L214.48 302.24M357.17 436.90L221.92 302.24M364.61 436.90L229.36 302.24M372.05 436.90L236.79 302.24M379.48 436.90L244.23 302.24M386.92 436.90L251.67 302.24M394.36 436.90L259.10 302.24M401.79 436.90L266.54 302.24M409.23 436.90L273.98 302.24M416.67 436.90L281.41 302.24M424.10 436.90L288.85 302.24M431.54 436.90L296.29 302.24M438.98 436.90L303.72 302.24M446.41 436.90L311.16 302.24M453.85 436.90L318.60 302.24M461.29 436.90L326.03 302.24M468.72 436.90L333.47 302.24M476.16 436.90L340.91 302.24M483.60 436.90L348.34 302.24M491.03 436.90L355.78 302.24M498.47 436.90L363.22 302.24M505.91 436.90L370.65 302.24M513.34 436.90L378.09 302.24M520.78 436.90L385.53 302.24M528.22 436.90L392.96 302.24M535.65 436.90L400.40 302.24M543.09 436.90L407.84 302.24M550.53 436.90L415.27 302.24M557.96 436.90L422.71 302.24M565.40 436.90L430.15 302.24M572.84 436.90L437.58 302.24M580.27 436.90L445.02 302.24M587.71 436.90L452.46 302.24M595.15 436.90L459.89 302.24M602.58 436.90L467.33 302.24M610.02 436.90L474.77 302.24M617.46 436.90L482.20 302.24M624.89 436.90L489.64 302.24M632.33 436.90L497.08 302.24M639.77 436.90L504.51 302.24M647.20 436.90L511.95 302.24M654.64 436.90L519.39 302.24M662.08 436.90L526.82 302.24M669.51 436.90L534.26 302.24M676.95 436.90L541.70 302.24M684.39 436.90L549.13 302.24M691.82 436.90L556.57 302.24M699.26 436.90L564.01 302.24M706.70 436.90L571.44 302.24M714.13 436.90L578.88 302.24M721.57 436.90L586.32 302.24M729.01 436.90L593.75 302.24M736.44 436.90L601.19 302.24M743.88 436.90L608.63 302.24M751.32 436.90L616.06 302.24M758.75 436.90L623.50 302.24M766.19 436.90L630.94 302.24M773.63 436.90L638.37 302.24M781.06 436.90L645.81 302.24M788.50 436.90L653.25 302.24M795.94 436.90L660.68 302.24M803.37 436.90L668.12 302.24M810.81 436.90L675.56 302.24" stroke="#000" stroke-width="1.10" fill="none"/></g>
<g clip-path="url(#c6)"><path d="M37.40 436.90L-26.71 373.08M48.55 436.90L-15.56 373.08M59.71 436.90L-4.40 373.08M70.86 436.90L6.75 373.08M82.02 436.90L17.91 373.08M93.17 436.90L29.06 373.08M104.33 436.90L40.22 373.08M115.48 436.90L51.37 373.08M126.64 436.90L62.53 373.08M137.79 436.90L73.68 373.08M148.95 436.90L84.84 373.08M160.10 436.90L95.99 373.08M171.26 436.90L107.15 373.08M182.41 436.90L118.30 373.08M193.57 436.90L129.46 373.08M204.72 436.90L140.61 373.08M215.88 436.90L151.77 373.08M227.03 436.90L162.92 373.08M238.19 436.90L174.08 373.08M249.34 436.90L185.23 373.08M260.50 436.90L196.39 373.08M271.65 436.90L207.54 373.08M282.81 436.90L218.70 373.08M293.96 436.90L229.85 373.08M305.12 436.90L241.01 373.08M316.27 436.90L252.16 373.08M327.43 436.90L263.32 373.08M338.58 436.90L274.47 373.08M349.74 436.90L285.63 373.08M360.89 436.90L296.78 373.08M372.05 436.90L307.94 373.08M383.20 436.90L319.09 373.08M394.36 436.90L330.25 373.08M405.51 436.90L341.40 373.08M416.67 436.90L352.56 373.08M427.82 436.90L363.71 373.08M438.98 436.90L374.87 373.08M450.13 436.90L386.02 373.08M461.29 436.90L397.18 373.08M472.44 436.90L408.33 373.08M483.60 436.90L419.49 373.08M494.75 436.90L430.64 373.08M505.91 436.90L441.80 373.08M517.06 436.90L452.95 373.08M528.22 436.90L464.11 373.08M539.37 436.90L475.26 373.08M550.53 436.90L486.42 373.08M561.68 436.90L497.57 373.08M572.84 436.90L508.73 373.08M583.99 436.90L519.88 373.08M595.15 436.90L531.04 373.08M606.30 436.90L542.19 373.08M617.46 436.90L553.35 373.08M628.61 436.90L564.50 373.08M639.77 436.90L575.66 373.08M650.92 436.90L586.81 373.08M662.08 436.90L597.97 373.08M673.23 436.90L609.12 373.08M684.39 436.90L620.28 373.08M695.54 436.90L631.43 373.08M706.70 436.90L642.59 373.08M717.85 436.90L653.74 373.08M729.01 436.90L664.90 373.08M740.16 436.90L676.05 373.08M751.32 436.90L687.21 373.08" stroke="#000" stroke-width="1.00" fill="none"/></g>
<g clip-path="url(#c7)"><path d="M358.89 433.19a1.07 1.07 0 1 0 2.13 0a1.07 1.07 0 1 0 -2.13 0M364.47 433.19a1.07 1.07 0 1 0 2.13 0a1.07 1.07 0 1 0 -2.13 0M370.04 433.19a1.07 1.07 0 1 0 2.13 0a1.07 1.07 0 1 0 -2.13 0M375.62 433.19a1.07 1.07 0 1 0 2.13 0a1.07 1.07 0 1 0 -2.13 0M381.20 433.19a1.07 1.07 0 1 0 2.13 0a1.07 1.07 0 1 0 -2.13 0M386.78 433.19a1.07 1.07 0 1 0 2.13 0a1.07 1.07 0 1 0 -2.13 0M392.35 433.19a1.07 1.07 0 1 0 2.13 0a1.07 1.07 0 1 0 -2.13 0M397.93 433.19a1.07 1.07 0 1 0 2.13 0a1.07 1.07 0 1 0 -2.13 0M403.51 433.19a1.07 1.07 0 1 0 2.13 0a1.07 1.07 0 1 0 -2.13 0M409.09 433.19a1.07 1.07 0 1 0 2.13 0a1.07 1.07 0 1 0 -2.13 0M414.66 433.19a1.07 1.07 0 1 0 2.13 0a1.07 1.07 0 1 0 -2.13 0M420.24 433.19a1.07 1.07 0 1 0 2.13 0a1.07 1.07 0 1 0 -2.13 0M425.82 433.19a1.07 1.07 0 1 0 2.13 0a1.07 1.07 0 1 0 -2.13 0M431.40 433.19a1.07 1.07 0 1 0 2.13 0a1.07 1.07 0 1 0 -2.13 0M436.97 433.19a1.07 1.07 0 1 0 2.13 0a1.07 1.07 0 1 0 -2.13 0M442.55 433.19a1.07 1.07 0 1 0 2.13 0a1.07 1.07 0 1 0 -2.13 0M448.13 433.19a1.07 1.07 0 1 0 2.13 0a1.07 1.07 0 1 0 -2.13 0M453.71 433.19a1.07 1.07 0 1 0 2.13 0a1.07 1.07 0 1 0 -2.13 0M459.28 433.19a1.07 1.07 0 1 0 2.13 0a1.07 1.07 0 1 0 -2.13 0M464.86 433.19a1.07 1.07 0 1 0 2.13 0a1.07 1.07 0 1 0 -2.13 0M470.44 433.19a1.07 1.07 0 1 0 2.13 0a1.07 1.07 0 1 0 -2.13 0M476.02 433.19a1.07 1.07 0 1 0 2.13 0a1.07 1.07 0 1 0 -2.13 0M481.59 433.19a1.07 1.07 0 1 0 2.13 0a1.07 1.07 0 1 0 -2.13 0M487.17 433.19a1.07 1.07 0 1 0 2.13 0a1.07 1.07 0 1 0 -2.13 0M492.75 433.19a1.07 1.07 0 1 0 2.13 0a1.07 1.07 0 1 0 -2.13 0M498.33 433.19a1.07 1.07 0 1 0 2.13 0a1.07 1.07 0 1 0 -2.13 0M503.90 433.19a1.07 1.07 0 1 0 2.13 0a1.07 1.07 0 1 0 -2.13 0M509.48 433.19a1.07 1.07 0 1 0 2.13 0a1.07 1.07 0 1 0 -2.13 0M515.06 433.19a1.07 1.07 0 1 0 2.13 0a1.07 1.07 0 1 0 -2.13 0M520.64 433.19a1.07 1.07 0 1 0 2.13 0a1.07 1.07 0 1 0 -2.13 0M526.21 433.19a1.07 1.07 0 1 0 2.13 0a1.07 1.07 0 1 0 -2.13 0M531.79 433.19a1.07 1.07 0 1 0 2.13 0a1.07 1.07 0 1 0 -2.13 0M537.37 433.19a1.07 1.07 0 1 0 2.13 0a1.07 1.07 0 1 0 -2.13 0M542.95 433.19a1.07 1.07 0 1 0 2.13 0a1.07 1.07 0 1 0 -2.13 0M548.52 433.19a1.07 1.07 0 1 0 2.13 0a1.07 1.07 0 1 0 -2.13 0M554.10 433.19a1.07 1.07 0 1 0 2.13 0a1.07 1.07 0 1 0 -2.13 0M559.68 433.19a1.07 1.07 0 1 0 2.13 0a1.07 1.07 0 1 0 -2.13 0M565.26 433.19a1.07 1.07 0 1 0 2.13 0a1.07 1.07 0 1 0 -2.13 0M570.83 433.19a1.07 1.07 0 1 0 2.13 0a1.07 1.07 0 1 0 -2.13 0M576.41 433.19a1.07 1.07 0 1 0 2.13 0a1.07 1.07 0 1 0 -2.13 0M581.99 433.19a1.07 1.07 0 1 0 2.13 0a1.07 1.07 0 1 0 -2.13 0M587.57 433.19a1.07 1.07 0 1 0 2.13 0a1.07 1.07 0 1 0 -2.13 0M593.14 433.19a1.07 1.07 0 1 0 2.13 0a1.07 1.07 0 1 0 -2.13 0M598.72 433.19a1.07 1.07 0 1 0 2.13 0a1.07 1.07 0 1 0 -2.13 0M604.30 433.19a1.07 1.07 0 1 0 2.13 0a1.07 1.07 0 1 0 -2.13 0M609.88 433.19a1.07 1.07 0 1 0 2.13 0a1.07 1.07 0 1 0 -2.13 0M615.45 433.19a1.07 1.07 0 1 0 2.13 0a1.07 1.07 0 1 0 -2.13 0M621.03 433.19a1.07 1.07 0 1 0 2.13 0a1.07 1.07 0 1 0 -2.13 0M626.61 433.19a1.07 1.07 0 1 0 2.13 0a1.07 1.07 0 1 0 -2.13 0M632.19 433.19a1.07 1.07 0 1 0 2.13 0a1.07 1.07 0 1 0 -2.13 0M637.76 433.19a1.07 1.07 0 1 0 2.13 0a1.07 1.07 0 1 0 -2.13 0M643.34 433.19a1.07 1.07 0 1 0 2.13 0a1.07 1.07 0 1 0 -2.13 0M648.92 433.19a1.07 1.07 0 1 0 2.13 0a1.07 1.07 0 1 0 -2.13 0M654.50 433.19a1.07 1.07 0 1 0 2.13 0a1.07 1.07 0 1 0 -2.13 0M660.07 433.19a1.07 1.07 0 1 0 2.13 0a1.07 1.07 0 1 0 -2.13 0M665.65 433.19a1.07 1.07 0 1 0 2.13 0a1.07 1.07 0 1 0 -2.13 0M671.23 433.19a1.07 1.07 0 1 0 2.13 0a1.07 1.07 0 1 0 -2.13 0M473.23 427.64a1.07 1.07 0 1 0 2.13 0a1.07 1.07 0 1 0 -2.13 0M478.80 427.64a1.07 1.07 0 1 0 2.13 0a1.07 1.07 0 1 0 -2.13 0M484.38 427.64a1.07 1.07 0 1 0 2.13 0a1.07 1.07 0 1 0 -2.13 0M489.96 427.64a1.07 1.07 0 1 0 2.13 0a1.07 1.07 0 1 0 -2.13 0M495.54 427.64a1.07 1.07 0 1 0 2.13 0a1.07 1.07 0 1 0 -2.13 0M501.11 427.64a1.07 1.07 0 1 0 2.13 0a1.07 1.07 0 1 0 -2.13 0M506.69 427.64a1.07 1.07 0 1 0 2.13 0a1.07 1.07 0 1 0 -2.13 0M512.27 427.64a1.07 1.07 0 1 0 2.13 0a1.07 1.07 0 1 0 -2.13 0M517.85 427.64a1.07 1.07 0 1 0 2.13 0a1.07 1.07 0 1 0 -2.13 0M523.42 427.64a1.07 1.07 0 1 0 2.13 0a1.07 1.07 0 1 0 -2.13 0M529.00 427.64a1.07 1.07 0 1 0 2.13 0a1.07 1.07 0 1 0 -2.13 0M534.58 427.64a1.07 1.07 0 1 0 2.13 0a1.07 1.07 0 1 0 -2.13 0M540.16 427.64a1.07 1.07 0 1 0 2.13 0a1.07 1.07 0 1 0 -2.13 0M545.73 427.64a1.07 1.07 0 1 0 2.13 0a1.07 1.07 0 1 0 -2.13 0M551.31 427.64a1.07 1.07 0 1 0 2.13 0a1.07 1.07 0 1 0 -2.13 0M556.89 427.64a1.07 1.07 0 1 0 2.13 0a1.07 1.07 0 1 0 -2.13 0M562.47 427.64a1.07 1.07 0 1 0 2.13 0a1.07 1.07 0 1 0 -2.13 0M568.04 427.64a1.07 1.07 0 1 0 2.13 0a1.07 1.07 0 1 0 -2.13 0M573.62 427.64a1.07 1.07 0 1 0 2.13 0a1.07 1.07 0 1 0 -2.13 0M579.20 427.64a1.07 1.07 0 1 0 2.13 0a1.07 1.07 0 1 0 -2.13 0M584.78 427.64a1.07 1.07 0 1 0 2.13 0a1.07 1.07 0 1 0 -2.13 0M590.35 427.64a1.07 1.07 0 1 0 2.13 0a1.07 1.07 0 1 0 -2.13 0M595.93 427.64a1.07 1.07 0 1 0 2.13 0a1.07 1.07 0 1 0 -2.13 0M601.51 427.64a1.07 1.07 0 1 0 2.13 0a1.07 1.07 0 1 0 -2.13 0M607.09 427.64a1.07 1.07 0 1 0 2.13 0a1.07 1.07 0 1 0 -2.13 0M612.66 427.64a1.07 1.07 0 1 0 2.13 0a1.07 1.07 0 1 0 -2.13 0M618.24 427.64a1.07 1.07 0 1 0 2.13 0a1.07 1.07 0 1 0 -2.13 0M623.82 427.64a1.07 1.07 0 1 0 2.13 0a1.07 1.07 0 1 0 -2.13 0M629.40 427.64a1.07 1.07 0 1 0 2.13 0a1.07 1.07 0 1 0 -2.13 0M634.97 427.64a1.07 1.07 0 1 0 2.13 0a1.07 1.07 0 1 0 -2.13 0M640.55 427.64a1.07 1.07 0 1 0 2.13 0a1.07 1.07 0 1 0 -2.13 0M646.13 427.64a1.07 1.07 0 1 0 2.13 0a1.07 1.07 0 1 0 -2.13 0M651.71 427.64a1.07 1.07 0 1 0 2.13 0a1.07 1.07 0 1 0 -2.13 0M657.28 427.64a1.07 1.07 0 1 0 2.13 0a1.07 1.07 0 1 0 -2.13 0M662.86 427.64a1.07 1.07 0 1 0 2.13 0a1.07 1.07 0 1 0 -2.13 0M668.44 427.64a1.07 1.07 0 1 0 2.13 0a1.07 1.07 0 1 0 -2.13 0M593.14 422.09a1.07 1.07 0 1 0 2.13 0a1.07 1.07 0 1 0 -2.13 0M598.72 422.09a1.07 1.07 0 1 0 2.13 0a1.07 1.07 0 1 0 -2.13 0M604.30 422.09a1.07 1.07 0 1 0 2.13 0a1.07 1.07 0 1 0 -2.13 0M609.88 422.09a1.07 1.07 0 1 0 2.13 0a1.07 1.07 0 1 0 -2.13 0M615.45 422.09a1.07 1.07 0 1 0 2.13 0a1.07 1.07 0 1 0 -2.13 0M621.03 422.09a1.07 1.07 0 1 0 2.13 0a1.07 1.07 0 1 0 -2.13 0M626.61 422.09a1.07 1.07 0 1 0 2.13 0a1.07 1.07 0 1 0 -2.13 0M632.19 422.09a1.07 1.07 0 1 0 2.13 0a1.07 1.07 0 1 0 -2.13 0M637.76 422.09a1.07 1.07 0 1 0 2.13 0a1.07 1.07 0 1 0 -2.13 0M643.34 422.09a1.07 1.07 0 1 0 2.13 0a1.07 1.07 0 1 0 -2.13 0M648.92 422.09a1.07 1.07 0 1 0 2.13 0a1.07 1.07 0 1 0 -2.13 0M654.50 422.09a1.07 1.07 0 1 0 2.13 0a1.07 1.07 0 1 0 -2.13 0M660.07 422.09a1.07 1.07 0 1 0 2.13 0a1.07 1.07 0 1 0 -2.13 0M665.65 422.09a1.07 1.07 0 1 0 2.13 0a1.07 1.07 0 1 0 -2.13 0M671.23 422.09a1.07 1.07 0 1 0 2.13 0a1.07 1.07 0 1 0 -2.13 0M668.44 416.53a1.07 1.07 0 1 0 2.13 0a1.07 1.07 0 1 0 -2.13 0" stroke="#000" stroke-width="1.15" fill="none"/></g>
<rect x="50.15" y="28.90" width="622.45" height="402.45" fill="none" stroke="#000" stroke-width="0.78"/>
<path d="M50.15 431.35v3.30M86.76 431.35v3.30M123.38 431.35v3.30M159.99 431.35v3.30M196.61 431.35v3.30M233.22 431.35v3.30M269.84 431.35v3.30M306.45 431.35v3.30M343.07 431.35v3.30M379.68 431.35v3.30M416.30 431.35v3.30M452.91 431.35v3.30M489.53 431.35v3.30M526.14 431.35v3.30M562.76 431.35v3.30M599.37 431.35v3.30M635.99 431.35v3.30M672.60 431.35v3.30M50.15 431.35h-3.30M50.15 391.11h-3.30M50.15 350.86h-3.30M50.15 310.62h-3.30M50.15 270.37h-3.30M50.15 230.12h-3.30M50.15 189.88h-3.30M50.15 149.63h-3.30M50.15 109.39h-3.30M50.15 69.14h-3.30M50.15 28.90h-3.30" stroke="#000" stroke-width="0.78" fill="none"/>
<text x="43.10" y="435.35" font-size="9.10" text-anchor="end">0%</text>
<text x="43.10" y="395.11" font-size="9.10" text-anchor="end">10%</text>
<text x="43.10" y="354.86" font-size="9.10" text-anchor="end">20%</text>
<text x="43.10" y="314.62" font-size="9.10" text-anchor="end">30%</text>
<text x="43.10" y="274.37" font-size="9.10" text-anchor="end">40%</text>
<text x="43.10" y="234.12" font-size="9.10" text-anchor="end">50%</text>
<text x="43.10" y="193.88" font-size="9.10" text-anchor="end">60%</text>
<text x="43.10" y="153.63" font-size="9.10" text-anchor="end">70%</text>
<text x="43.10" y="113.39" font-size="9.10" text-anchor="end">80%</text>
<text x="43.10" y="73.14" font-size="9.10" text-anchor="end">90%</text>
<text x="43.10" y="32.90" font-size="9.10" text-anchor="end">100%</text>
<text transform="translate(49.55 449.84) rotate(-70)" y="3.32" font-size="9.10" text-anchor="middle">0 - 4</text>
<text transform="translate(86.16 449.84) rotate(-70)" y="3.32" font-size="9.10" text-anchor="middle">5 - 9</text>
<text transform="translate(122.78 455.28) rotate(-70)" y="3.32" font-size="9.10" text-anchor="middle">10 - 14</text>
<text transform="translate(159.39 455.28) rotate(-70)" y="3.32" font-size="9.10" text-anchor="middle">15 - 19</text>
<text transform="translate(196.01 455.28) rotate(-70)" y="3.32" font-size="9.10" text-anchor="middle">20 - 24</text>
<text transform="translate(232.62 455.28) rotate(-70)" y="3.32" font-size="9.10" text-anchor="middle">25 - 29</text>
<text transform="translate(269.24 455.28) rotate(-70)" y="3.32" font-size="9.10" text-anchor="middle">30 - 34</text>
<text transform="translate(305.85 455.28) rotate(-70)" y="3.32" font-size="9.10" text-anchor="middle">35 - 39</text>
<text transform="translate(342.47 455.28) rotate(-70)" y="3.32" font-size="9.10" text-anchor="middle">40 - 44</text>
<text transform="translate(379.08 455.28) rotate(-70)" y="3.32" font-size="9.10" text-anchor="middle">45 - 49</text>
<text transform="translate(415.70 455.28) rotate(-70)" y="3.32" font-size="9.10" text-anchor="middle">50 - 54</text>
<text transform="translate(452.31 455.28) rotate(-70)" y="3.32" font-size="9.10" text-anchor="middle">55 - 59</text>
<text transform="translate(488.93 455.28) rotate(-70)" y="3.32" font-size="9.10" text-anchor="middle">60 - 64</text>
<text transform="translate(525.54 455.28) rotate(-70)" y="3.32" font-size="9.10" text-anchor="middle">65 - 69</text>
<text transform="translate(562.16 455.28) rotate(-70)" y="3.32" font-size="9.10" text-anchor="middle">70 - 74</text>
<text transform="translate(598.77 455.28) rotate(-70)" y="3.32" font-size="9.10" text-anchor="middle">75 - 79</text>
<text transform="translate(635.39 455.28) rotate(-70)" y="3.32" font-size="9.10" text-anchor="middle">80 - 84</text>
<text transform="translate(672.00 465.09) rotate(-70)" y="3.46" font-size="9.10" text-anchor="middle">85 &amp; Above</text>
<text x="361.40" y="15.00" font-size="18.05" font-weight="bold" text-anchor="middle" textLength="445.6" lengthAdjust="spacing">Fortin List (Standardised Prevalence Rate)</text>
<text x="361.05" y="505.60" font-size="12.10" font-weight="bold" text-anchor="middle">Age Group (Years)</text>
<text transform="translate(10.10 229.90) rotate(-90)" font-size="12.10" font-weight="bold" text-anchor="middle">% of Patients</text>
<text x="351.50" y="536.00" font-size="9.32" text-anchor="middle">*8-19 conditions are omitted as the data counts are negligible in comparison to 0-7 conditions</text>
<rect x="57.40" y="36.50" width="79.00" height="133.40" rx="2.5" fill="#8c8c8c"/>
<rect x="55.60" y="34.70" width="79.00" height="133.40" rx="2.5" fill="#fff" stroke="#ccc" stroke-width="0.9"/>
<defs>
<clipPath id="l0"><rect x="60.15" y="39.60" width="22.00" height="7.50"/></clipPath>
<clipPath id="l1"><rect x="60.15" y="55.87" width="22.00" height="7.50"/></clipPath>
<clipPath id="l2"><rect x="60.15" y="72.14" width="22.00" height="7.50"/></clipPath>
<clipPath id="l3"><rect x="60.15" y="88.41" width="22.00" height="7.50"/></clipPath>
<clipPath id="l4"><rect x="60.15" y="104.68" width="22.00" height="7.50"/></clipPath>
<clipPath id="l5"><rect x="60.15" y="120.95" width="22.00" height="7.50"/></clipPath>
<clipPath id="l6"><rect x="60.15" y="137.22" width="22.00" height="7.50"/></clipPath>
<clipPath id="l7"><rect x="60.15" y="153.49" width="22.00" height="7.50"/></clipPath>
</defs>
<rect x="60.15" y="39.60" width="22.00" height="7.50" fill="#dcdcdc"/>
<g clip-path="url(#l0)"></g>
<text x="91.30" y="47.35" font-size="11.15">0 Cdn</text>
<rect x="60.15" y="55.87" width="22.00" height="7.50" fill="#d3d3d3"/>
<g clip-path="url(#l1)"><path d="M61.56 61.14h0M72.71 61.14h0M83.87 61.14h0" stroke="#000" stroke-width="3.43" stroke-linecap="round" fill="none"/></g>
<text x="91.30" y="63.62" font-size="11.15">1 Cdn</text>
<rect x="60.15" y="72.14" width="22.00" height="7.50" fill="#d4d4d4"/>
<g clip-path="url(#l2)"><path d="M37.40 85.19L56.09 66.59M44.84 85.19L63.53 66.59M52.27 85.19L70.96 66.59M59.71 85.19L78.40 66.59M67.15 85.19L85.84 66.59M74.58 85.19L93.27 66.59M82.02 85.19L100.71 66.59M89.46 85.19L108.15 66.59" stroke="#000" stroke-width="1.34" fill="none"/></g>
<text x="91.30" y="79.89" font-size="11.15">2 Cdns</text>
<rect x="60.15" y="88.41" width="22.00" height="7.50" fill="#c0c0c0"/>
<g clip-path="url(#l3)"><path d="M59.70 94.46h0M63.42 94.46h0M67.13 94.46h0M70.85 94.46h0M74.57 94.46h0M78.29 94.46h0M82.01 94.46h0M61.56 90.76h0M65.28 90.76h0M68.99 90.76h0M72.71 90.76h0M76.43 90.76h0M80.15 90.76h0" stroke="#000" stroke-width="1.94" stroke-linecap="round" fill="none"/></g>
<text x="91.30" y="96.16" font-size="11.15">3 Cdns</text>
<rect x="60.15" y="104.68" width="22.00" height="7.50" fill="#a9a9a9"/>
<g clip-path="url(#l4)"><path d="M59.15 119.45L83.15 119.45M59.15 113.90L83.15 113.90M59.15 108.34L83.15 108.34M59.15 102.79L83.15 102.79M59.15 97.24L83.15 97.24" stroke="#000" stroke-width="1.38" fill="none"/></g>
<text x="91.30" y="112.43" font-size="11.15">4 Cdns</text>
<rect x="60.15" y="120.95" width="22.00" height="7.50" fill="#ababab"/>
<g clip-path="url(#l5)"><path d="M33.00 134.00L51.68 115.40M40.43 134.00L59.12 115.40M47.87 134.00L66.56 115.40M55.31 134.00L73.99 115.40M62.74 134.00L81.43 115.40M70.18 134.00L88.87 115.40M77.62 134.00L96.30 115.40M85.05 134.00L103.74 115.40M52.94 134.00L34.25 115.40M60.37 134.00L41.69 115.40M67.81 134.00L49.12 115.40M75.25 134.00L56.56 115.40M82.68 134.00L64.00 115.40M90.12 134.00L71.43 115.40M97.56 134.00L78.87 115.40M104.99 134.00L86.31 115.40" stroke="#000" stroke-width="1.32" fill="none"/></g>
<text x="91.30" y="128.70" font-size="11.15">5 Cdns</text>
<rect x="60.15" y="137.22" width="22.00" height="7.50" fill="#868686"/>
<g clip-path="url(#l6)"><path d="M50.69 150.27L32.00 131.67M61.84 150.27L43.15 131.67M73.00 150.27L54.31 131.67M84.15 150.27L65.46 131.67M95.31 150.27L76.62 131.67M106.46 150.27L87.77 131.67" stroke="#000" stroke-width="1.20" fill="none"/></g>
<text x="91.30" y="144.97" font-size="11.15">6 Cdns</text>
<rect x="60.15" y="153.49" width="22.00" height="7.50" fill="#838383"/>
<g clip-path="url(#l7)"><path d="M60.49 161.10a1.07 1.07 0 1 0 2.13 0a1.07 1.07 0 1 0 -2.13 0M66.07 161.10a1.07 1.07 0 1 0 2.13 0a1.07 1.07 0 1 0 -2.13 0M71.65 161.10a1.07 1.07 0 1 0 2.13 0a1.07 1.07 0 1 0 -2.13 0M77.22 161.10a1.07 1.07 0 1 0 2.13 0a1.07 1.07 0 1 0 -2.13 0M57.70 155.54a1.07 1.07 0 1 0 2.13 0a1.07 1.07 0 1 0 -2.13 0M63.28 155.54a1.07 1.07 0 1 0 2.13 0a1.07 1.07 0 1 0 -2.13 0M68.86 155.54a1.07 1.07 0 1 0 2.13 0a1.07 1.07 0 1 0 -2.13 0M74.44 155.54a1.07 1.07 0 1 0 2.13 0a1.07 1.07 0 1 0 -2.13 0M80.01 155.54a1.07 1.07 0 1 0 2.13 0a1.07 1.07 0 1 0 -2.13 0" stroke="#000" stroke-width="1.35" fill="none"/></g>
<text x="91.30" y="161.24" font-size="11.15">7 Cdns</text>
</svg></body></html>
